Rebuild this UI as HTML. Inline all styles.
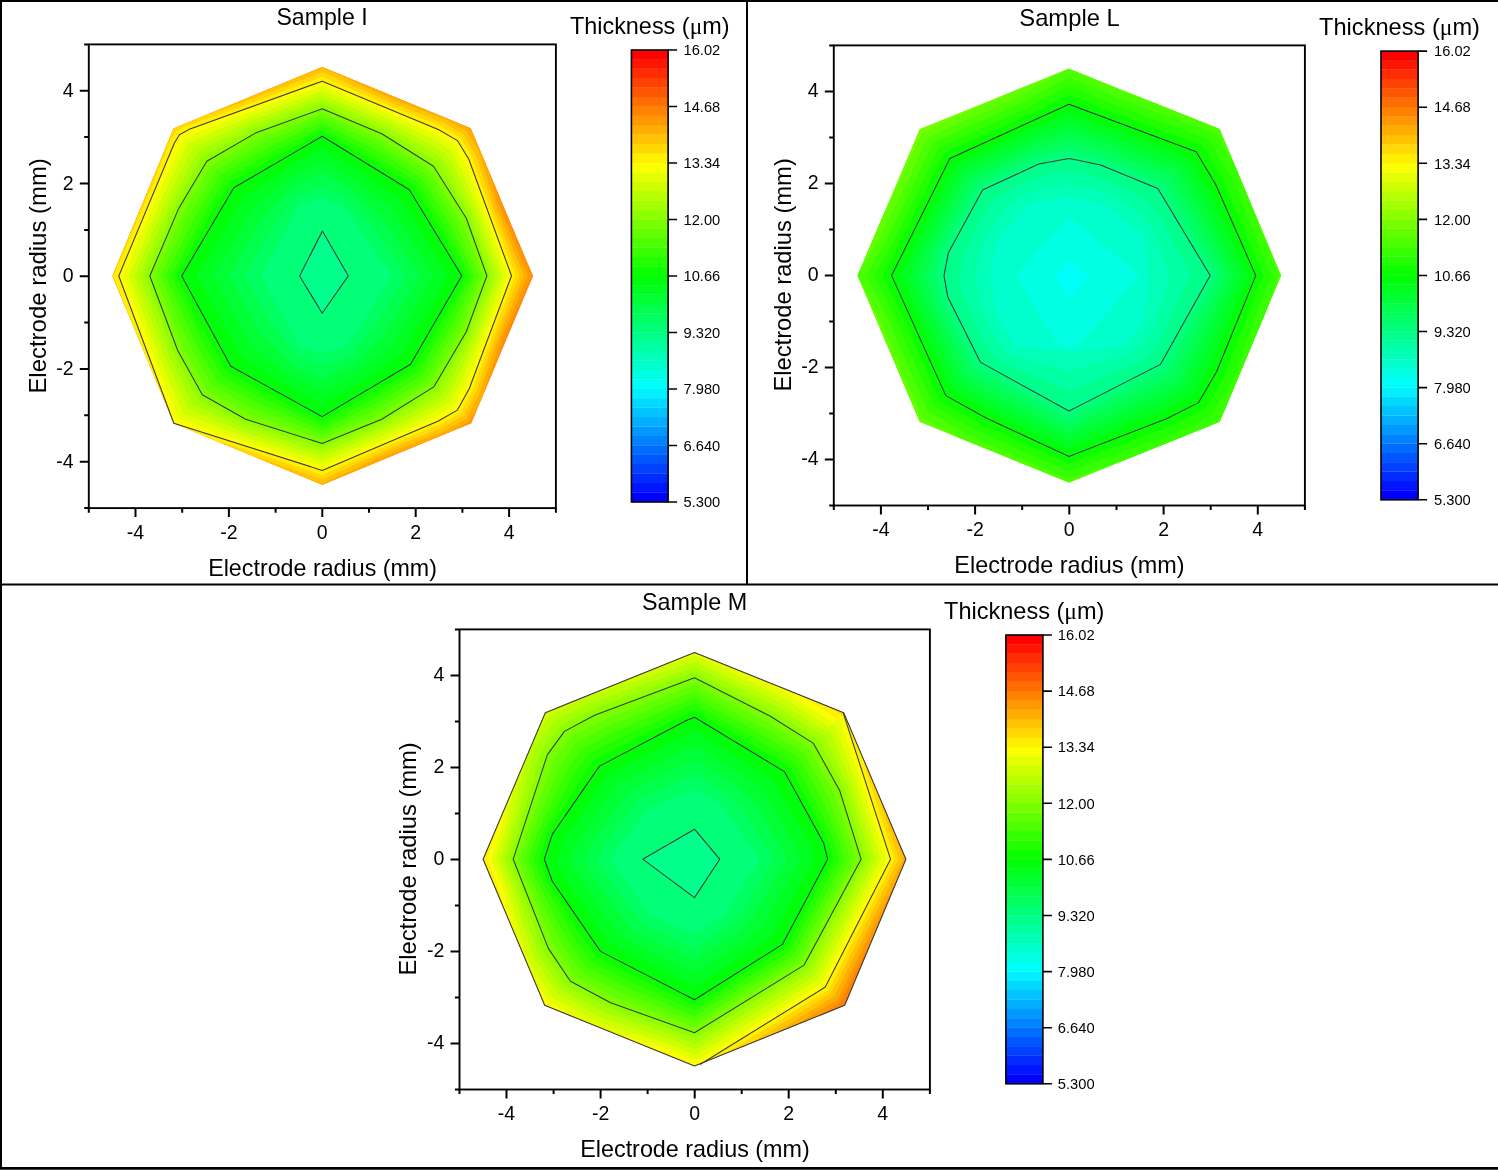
<!DOCTYPE html><html><head><meta charset="utf-8"><style>html,body{margin:0;padding:0;background:#fff;overflow:hidden}svg{display:block}text{font-family:"Liberation Sans",sans-serif;fill:#000}</style></head><body>
<svg width="1498" height="1170" viewBox="0 0 1498 1170">
<rect width="1498" height="1170" fill="#fff"/>
<g opacity="0.999">
<g>
<polygon points="322.2,67 470.7,128.2 533.1,276.1 471.2,423.2 322.2,484.8 173.8,423.2 112.5,276 173.6,128.6" fill="#ff8200"/>
<polygon points="112.5,276 173.6,128.6 322.2,67 470.7,128.2 500,197.7 501.2,201.9 501.8,204 510.7,225.5 521,249.8 531.7,275.2 531.9,275.7 532,275.7 532,275.8 531.9,276 531.9,276.1 520.7,302.1 510.3,326.4 502.1,345.7 500.8,349.9 497.5,360.7 471.2,423.2 322.2,484.8 173.8,423.2" fill="#ff9800"/>
<polygon points="112.5,276 173.6,128.6 322.2,67 468.2,127.2 469.9,128.1 470,128.3 470.1,128.8 470.3,129.2 470.5,129.7 473.2,134.1 488.7,171 491,178.6 498.3,203.1 498.9,205.1 507.5,226.4 517.4,250.3 527.6,275.2 527.9,275.7 527.9,275.8 527.9,275.8 527.8,276 527.8,276.1 517.1,301.6 507.1,325.5 499.2,344.5 497.9,348.7 490.1,372.9 483,395.2 480.5,401.2 469.4,421.4 469.2,421.8 468.9,421.8 468.4,422.1 453.3,430.6 426.4,441.7 419.5,444.3 395.9,453.2 395.7,453.3 384.2,458.8 377.3,462 322.2,484.8 173.8,423.2" fill="#ffae00"/>
<polygon points="112.5,276 173.6,128.6 300.1,76.2 322.2,67.4 322.2,67.4 322.2,67.4 322.3,67.4 322.8,67.7 348.2,79.1 372.2,89.9 381.6,94.2 395.1,100.2 395.7,100.5 418.6,109.2 443.2,118.4 446.8,119.8 466.7,131.2 466.8,131.5 467,131.9 467.2,132.3 467.4,132.7 478.8,151.3 479.9,155 487.9,180.4 495.4,204.3 496,206.3 504.3,227.2 513.8,250.8 523.6,275.2 523.8,275.7 523.8,275.8 523.8,275.8 523.7,276 523.7,276.1 513.4,301.2 503.9,324.6 496.3,343.4 494.9,347.5 487,371.1 478.8,396.1 478.7,396.1 466.4,418.5 466.2,418.9 466,418.9 465.5,419.2 445.2,430.6 441.9,431.9 417.7,441.3 394.6,450.2 394.5,450.3 383.1,455.6 371.8,460.8 348.1,471.8 322.3,483.8 322.2,483.8 322.2,483.8 322.2,483.8 321.7,483.7 307.1,478.5 173.8,423.2" fill="#ffc300"/>
<polygon points="112.5,276 173.6,128.6 209.6,113.7 225.5,108.4 241.3,103.1 249.4,100 263.5,94.6 272.7,91.1 296.7,81.8 322.2,72 322.2,72 322.2,72 322.3,72 322.8,72.2 347.7,83.2 371.2,93.6 380.5,97.6 393.8,103.4 394.3,103.7 416.7,112.5 440.6,121.8 444.1,123.1 463.6,134.4 463.7,134.6 463.9,134.9 464.1,135.3 464.3,135.8 475.5,154 476.6,157.6 484.8,182.2 492.5,205.5 493.1,207.4 501.1,228.1 510.1,251.3 519.5,275.2 519.7,275.7 519.7,275.8 519.7,275.8 519.6,276 519.6,276.1 509.8,300.7 500.6,323.8 493.3,342.3 492,346.3 484,369.3 475.6,393.6 475.6,393.7 463.5,415.6 463.3,415.9 463.1,416 462.6,416.3 442.7,427.5 439.5,428.8 415.9,438.2 393.4,447.2 393.3,447.3 382,452.3 370.9,457.3 347.6,467.9 322.3,479.3 322.2,479.4 322.2,479.4 322.2,479.3 321.8,479.2 296.7,470.7 272.4,462.4 262.9,459.2 249.8,454.7 173.8,423.2" fill="#ffd900"/>
<polygon points="113.6,276 124.8,250 135.2,225.9 145.1,202.6 148.7,194.3 154.8,179.3 164.7,155.1 170.9,139.8 176.1,131.3 176.3,131.3 176.5,131.1 176.8,131 177.1,130.8 185.6,126.2 202.7,120.2 227.4,111.6 242.8,106.2 250.8,103.3 264.7,98.1 273.7,94.7 297.3,85.9 322.2,76.6 322.2,76.6 322.2,76.6 322.3,76.6 322.7,76.8 347.1,87.3 370.2,97.2 379.3,101.1 392.4,106.7 393,106.9 414.8,115.7 438.1,125.1 441.5,126.5 460.5,137.5 460.6,137.7 460.8,138 461,138.4 461.2,138.8 472.1,156.7 473.3,160.1 481.6,184 489.5,206.7 490.2,208.6 497.9,229 506.5,251.8 515.4,275.3 515.6,275.7 515.6,275.8 515.6,275.8 515.5,276 515.5,276.1 506.2,300.2 497.4,322.9 490.4,341.1 489,345 480.9,367.6 472.4,391.2 472.4,391.2 460.5,412.7 460.3,413 460.2,413.1 459.7,413.4 440.3,424.4 437.2,425.7 414.2,435.1 392.1,444.2 392,444.3 380.9,449.1 370,453.9 347,464 322.3,474.8 322.2,474.9 322.2,474.9 322.2,474.9 321.8,474.7 297.2,466.6 273.3,458.8 264,455.7 249.8,451 231.8,445.2 225.7,443.3 213.6,439.7 173.8,423.2 128.2,313.6 123.7,302.1" fill="#ffef00"/>
<polygon points="118.8,276 129.4,250.6 139.3,227 148.8,204.1 152.3,196 158.4,181.4 168.2,157.8 174.4,143 179.5,134.7 179.7,134.6 179.9,134.5 180.2,134.3 180.5,134.2 188.7,129.6 205.3,123.6 229.3,114.9 244.3,109.4 252.1,106.6 265.8,101.6 274.7,98.4 297.8,90 322.2,81.2 322.2,81.2 322.2,81.2 322.3,81.2 322.7,81.4 346.6,91.4 369.2,100.8 378.2,104.5 391.1,109.9 391.6,110.1 412.9,119 435.5,128.4 438.8,129.8 457.4,140.6 457.5,140.8 457.7,141.1 457.9,141.5 458.2,141.8 468.8,159.3 470,162.6 478.5,185.8 486.6,207.9 487.3,209.8 494.6,229.8 502.9,252.2 511.3,275.3 511.5,275.7 511.5,275.8 511.5,275.8 511.4,276 511.4,276.1 502.5,299.7 494.2,322.1 487.5,340 486,343.8 477.8,365.8 469.2,388.7 469.2,388.8 457.6,409.7 457.4,410.1 457.2,410.2 456.8,410.5 437.8,421.3 434.8,422.6 412.4,432.1 390.9,441.2 390.8,441.3 379.8,445.9 369.1,450.5 346.5,460.1 322.3,470.4 322.2,470.4 322.2,470.4 322.2,470.4 321.8,470.3 297.7,462.6 274.3,455.2 265.1,452.2 251.1,447.8 233.4,442.1 227.5,440.3 202.4,432.3 174.8,423.5 173.8,423.2 173.7,423 173.6,422.6 164.1,397.4 154.9,372.6 151.7,363.9 146.1,349 137.3,325.6 128.3,301.5" fill="#faff00"/>
<polygon points="124,276 134.3,251.3 144,228.2 153.3,206 156.7,198 162.9,184 172.9,161.3 179.1,147.2 184,139.2 184.2,139.1 184.4,138.9 184.6,138.8 184.9,138.6 192.9,134.2 208.7,128 231.7,119.1 246.2,113.4 253.8,110.6 267.2,105.8 275.8,102.6 298.4,94.4 322.2,85.8 322.2,85.8 322.2,85.8 322.3,85.8 322.7,86 346,95.7 368.1,105 376.9,108.6 389.5,113.8 390,114.1 410.5,123.2 432.2,132.8 435.3,134.2 453.2,144.8 453.4,144.9 453.6,145.2 453.8,145.6 454.1,145.9 464.4,162.8 465.7,166 474.5,188.1 483.1,209.4 483.8,211.2 491,230.8 499,252.7 507.2,275.3 507.4,275.7 507.4,275.8 507.4,275.8 507.3,276 507.3,276.1 498.7,299.2 490.5,321.1 483.9,338.6 482.4,342.3 473.9,363.5 465,385.5 465,385.6 453.7,405.9 453.5,406.2 453.3,406.3 452.9,406.6 434.5,417.2 431.6,418.5 410.2,428.2 389.4,437.6 389.2,437.6 378.5,442.1 368,446.6 346,455.9 322.3,465.9 322.2,465.9 322.2,465.9 322.2,465.9 321.8,465.8 298.3,458.3 275.4,451 266.4,448.2 252.8,443.9 235.4,438.3 229.7,436.3 205.7,427.9 179.5,418.8 178.6,418.5 178.5,418.3 178.3,417.9 168.8,393.8 159.3,370.1 156,361.7 150.6,347.1 142,324.3 133.3,300.9" fill="#e4ff00"/>
<polygon points="129.1,276 139.3,251.9 148.7,229.5 157.8,207.9 161.1,200.1 167.4,186.6 177.5,164.9 183.8,151.4 188.5,143.6 188.7,143.5 188.9,143.4 189.1,143.3 189.4,143.1 197.1,138.8 212.2,132.5 234.1,123.2 248,117.3 255.5,114.6 268.5,109.9 277,106.8 299,98.8 322.2,90.4 322.2,90.4 322.2,90.4 322.3,90.4 322.7,90.6 345.5,100.1 367,109.1 375.6,112.7 387.8,117.8 388.4,118 408.1,127.4 428.8,137.2 431.8,138.6 449.1,148.9 449.2,149.1 449.5,149.4 449.7,149.6 449.9,150 460,166.3 461.3,169.3 470.5,190.4 479.5,210.9 480.3,212.6 487.3,231.8 495.1,253.3 503.1,275.3 503.3,275.7 503.3,275.8 503.3,275.8 503.2,276 503.2,276.1 494.8,298.7 486.8,320.1 480.4,337.3 478.9,340.8 470,361.3 460.8,382.3 460.8,382.4 449.7,402 449.6,402.3 449.4,402.4 449,402.7 431.3,413.1 428.5,414.4 407.9,424.3 387.9,433.9 387.7,434 377.3,438.4 367,442.7 345.4,451.7 322.3,461.4 322.2,461.4 322.2,461.4 322.2,461.4 321.8,461.3 298.9,454 276.5,446.9 267.8,444.2 254.4,439.9 237.4,434.5 232,432.4 209.1,423.6 184.2,414.1 183.4,413.7 183.2,413.5 183.1,413.2 173.4,390.3 163.8,367.5 160.3,359.4 155,345.3 146.7,323 138.2,300.2" fill="#ceff00"/>
<polygon points="134.3,276 144.2,252.6 153.4,230.7 162.3,209.7 165.5,202.2 171.9,189.2 182.2,168.5 188.5,155.7 193.1,148.1 193.2,148 193.4,147.8 193.6,147.7 193.9,147.6 201.3,143.4 215.6,136.9 236.5,127.4 249.9,121.3 257.1,118.6 269.8,114 278.1,111 299.6,103.2 322.2,95 322.2,95 322.2,95 322.3,95 322.7,95.2 344.9,104.5 365.9,113.2 374.2,116.7 386.2,121.7 386.7,121.9 405.7,131.6 425.4,141.6 428.3,143 444.9,153.1 445.1,153.2 445.3,153.5 445.6,153.7 445.8,154 455.6,169.8 457,172.7 466.5,192.7 476,212.3 476.8,214 483.6,232.8 491.2,253.8 499,275.3 499.2,275.7 499.2,275.8 499.2,275.8 499.1,276 499.1,276.1 490.9,298.2 483.1,319.1 476.9,335.9 475.3,339.4 466,359 456.7,379.1 456.6,379.1 445.8,398.1 445.6,398.4 445.5,398.5 445.1,398.8 428,409 425.4,410.3 405.7,420.4 386.4,430.3 386.2,430.3 376,434.6 365.9,438.8 344.9,447.5 322.3,456.9 322.2,456.9 322.2,456.9 322.2,456.9 321.8,456.8 299.4,449.7 277.6,442.8 269.1,440.1 256,436 239.5,430.7 234.3,428.5 212.4,419.2 189,409.3 188.1,409 188,408.8 187.9,408.5 178,386.7 168.2,365 164.7,357.2 159.5,343.4 151.4,321.8 143.1,299.6" fill="#b8ff00"/>
<polygon points="139.5,276 149.1,253.2 158.1,232 166.8,211.6 169.9,204.3 176.4,191.8 186.8,172 193.2,159.9 197.6,152.6 197.7,152.5 197.8,152.3 198,152.2 198.3,152 205.5,148 219,141.3 238.9,131.5 251.7,125.2 258.8,122.6 271.2,118.1 279.2,115.2 300.1,107.6 322.2,99.6 322.2,99.6 322.2,99.6 322.3,99.6 322.7,99.8 344.3,108.8 364.8,117.4 372.9,120.8 384.6,125.6 385.1,125.8 403.3,135.8 422.1,146 424.7,147.4 440.8,157.2 440.9,157.4 441.2,157.6 441.4,157.8 441.7,158.1 451.2,173.3 452.6,176 462.6,195 472.5,213.8 473.3,215.4 479.9,233.8 487.3,254.3 494.9,275.3 495.1,275.8 495.1,275.8 495.1,275.8 495,276 495,276.1 487,297.7 479.4,318.1 473.4,334.5 471.7,337.9 462.1,356.7 452.5,375.9 452.4,375.9 441.9,394.2 441.7,394.5 441.6,394.7 441.2,394.9 424.7,404.9 422.2,406.2 403.4,416.5 384.8,426.6 384.7,426.7 374.7,430.8 364.9,434.9 344.3,443.3 322.3,452.4 322.2,452.5 322.2,452.5 322.2,452.5 321.8,452.3 300,445.4 278.7,438.7 270.4,436.1 257.7,432 241.5,426.9 236.5,424.6 215.8,414.9 193.7,404.6 192.9,404.3 192.8,404.1 192.6,403.8 182.7,383.1 172.6,362.4 169,355 164,341.6 156.1,320.5 148.1,298.9" fill="#a3ff00"/>
<polygon points="144.6,276 154.1,253.9 162.8,233.3 171.3,213.4 174.3,206.3 181,194.4 191.5,175.6 197.9,164.1 202.1,157.1 202.2,156.9 202.3,156.7 202.5,156.6 202.8,156.5 209.6,152.5 222.4,145.8 241.3,135.7 253.6,129.2 260.4,126.7 272.5,122.3 280.3,119.4 300.7,112 322.2,104.2 322.2,104.2 322.2,104.2 322.3,104.2 322.7,104.4 343.7,113.2 363.7,121.5 371.6,124.8 383,129.6 383.4,129.8 400.8,140 418.7,150.4 421.2,151.9 436.6,161.4 436.8,161.5 437,161.7 437.3,161.9 437.6,162.1 446.8,176.8 448.3,179.4 458.6,197.3 468.9,215.3 469.8,216.8 476.3,234.7 483.4,254.8 490.8,275.4 491,275.8 491,275.8 491,275.8 490.9,276 490.9,276.1 483.1,297.2 475.8,317.1 469.8,333.2 468.1,336.4 458.2,354.5 448.3,372.7 448.3,372.7 438,390.4 437.8,390.6 437.7,390.8 437.3,391 421.5,400.7 419.1,402.1 401.1,412.6 383.3,423 383.2,423 373.4,427 363.8,430.9 343.8,439.1 322.3,447.9 322.2,448 322.2,448 322.2,448 321.8,447.9 300.6,441.1 279.8,434.6 271.7,432 259.3,428.1 243.6,423.1 238.8,420.6 219.1,410.5 198.4,399.9 197.7,399.5 197.5,399.4 197.4,399.1 187.3,379.6 177.1,359.9 173.4,352.7 168.5,339.7 160.8,319.3 153,298.3" fill="#8dff00"/>
<polygon points="149.8,276 159,254.5 167.5,234.5 175.8,215.3 178.7,208.4 185.5,197 196.1,179.2 202.6,168.3 206.6,161.5 206.7,161.4 206.8,161.2 207,161.1 207.2,160.9 213.8,157.1 225.8,150.2 243.7,139.9 255.4,133.1 262.1,130.7 273.8,126.4 281.5,123.6 301.3,116.4 322.2,108.8 322.2,108.8 322.2,108.8 322.3,108.8 322.7,109 343.2,117.6 362.6,125.7 370.3,128.9 381.3,133.5 381.8,133.7 398.4,144.2 415.3,154.8 417.7,156.3 432.5,165.6 432.6,165.7 432.9,165.8 433.2,166 433.5,166.2 442.4,180.3 443.9,182.7 454.6,199.6 465.4,216.7 466.3,218.2 472.6,235.7 479.6,255.3 486.7,275.4 486.9,275.8 486.9,275.8 486.9,275.8 486.8,276 486.8,276.1 479.2,296.7 472.1,316.1 466.3,331.8 464.5,334.9 454.3,352.2 444.1,369.5 444.1,369.5 434.1,386.5 433.9,386.8 433.8,386.9 433.4,387.1 418.2,396.6 415.9,398 398.9,408.7 381.8,419.3 381.7,419.3 372.1,423.2 362.8,427 343.2,435 322.3,443.5 322.2,443.5 322.2,443.5 322.2,443.5 321.9,443.4 301.1,436.8 280.9,430.5 273,428 260.9,424.1 245.6,419.3 241.1,416.7 222.4,406.1 203.1,395.2 202.5,394.8 202.3,394.7 202.2,394.4 191.9,376 181.5,357.3 177.7,350.5 173,337.9 165.5,318 157.9,297.6" fill="#77ff00"/>
<polygon points="155.1,276 164.5,255.2 173.1,236 181.3,217.6 184.3,211 190.8,200.1 201,182.9 207.2,172.5 211.1,166 211.2,165.8 211.3,165.7 211.5,165.5 211.7,165.4 218,161.7 229.5,155.1 246.7,145.1 258,138.6 264.4,136.1 275.6,131.7 282.9,128.9 301.9,121.4 322.2,113.4 322.2,113.4 322.2,113.4 322.3,113.4 322.7,113.6 342.5,122.4 361.2,130.7 368.6,134 379.2,138.7 379.6,138.9 395.7,148.9 412,159.1 414.3,160.6 428.5,169.5 428.7,169.6 428.9,169.8 429.2,170 429.5,170.2 438.1,183.8 439.5,186.1 449.7,202.4 460.1,218.9 461,220.3 467.5,237.1 474.9,255.9 482.6,275.4 482.7,275.8 482.7,275.8 482.7,275.8 482.6,276 482.6,276.1 474.7,296.1 467.2,314.8 461.3,329.9 459.5,332.8 449.7,349.5 439.9,366.2 439.9,366.3 430.2,382.7 430,382.9 430,383.1 429.6,383.3 414.9,392.5 412.7,393.8 396.2,404 379.7,414.2 379.6,414.3 370.4,418.2 361.4,422.1 342.6,430.2 322.3,439 322.2,439 322.2,439 322.2,439 321.9,438.9 301.8,431.9 282.3,425.1 274.8,422.5 263.3,418.5 248.7,413.5 244.3,411 226.4,400.9 207.9,390.4 207.2,390.1 207.1,390 206.9,389.7 197.1,372.1 187.1,354 183.5,347.5 178.7,335.5 171.2,316.5 163.4,296.9" fill="#62ff00"/>
<polygon points="160.4,276 169.9,255.9 178.7,237.5 186.9,219.9 189.9,213.7 196.1,203.2 205.9,186.7 211.9,176.7 215.6,170.4 215.7,170.3 215.8,170.1 215.9,170 216.2,169.9 222.2,166.3 233.3,160 249.8,150.4 260.6,144.1 266.6,141.6 277.3,137.1 284.3,134.1 302.6,126.3 322.2,118 322.2,118 322.2,118 322.3,118 322.7,118.2 341.9,127.3 359.9,135.8 366.9,139.1 377,143.9 377.5,144.1 392.9,153.7 408.6,163.5 410.8,164.9 424.6,173.5 424.7,173.6 425,173.7 425.2,173.9 425.5,174.1 433.7,187.3 435.1,189.5 444.9,205.2 454.8,221.1 455.7,222.5 462.5,238.4 470.2,256.5 478.4,275.4 478.5,275.8 478.5,275.8 478.5,275.8 478.4,276 478.4,276.1 470.1,295.5 462.4,313.5 456.3,327.9 454.6,330.8 445.1,346.9 435.7,363 435.6,363 426.4,378.9 426.2,379.1 426.1,379.3 425.8,379.5 411.6,388.3 409.4,389.6 393.5,399.4 377.6,409.1 377.5,409.2 368.7,413.2 360.1,417.1 342,425.4 322.3,434.5 322.2,434.5 322.2,434.5 322.2,434.5 321.9,434.4 302.4,426.9 283.8,419.8 276.5,417.1 265.6,412.9 251.8,407.7 247.6,405.4 230.4,395.7 212.6,385.7 212,385.3 211.9,385.2 211.7,385 202.3,368.1 192.8,350.8 189.3,344.5 184.5,333.1 176.9,315 169,296.2" fill="#4cff00"/>
<polygon points="165.8,276 175.4,256.7 184.2,239 192.5,222.3 195.5,216.3 201.5,206.2 210.8,190.5 216.5,180.9 220.1,174.9 220.2,174.7 220.3,174.6 220.4,174.4 220.6,174.3 226.4,170.9 237,164.8 252.8,155.6 263.1,149.6 268.9,147 279,142.4 285.7,139.4 303.3,131.3 322.2,122.6 322.2,122.6 322.2,122.6 322.3,122.6 322.6,122.8 341.2,132.2 358.5,140.9 365.3,144.3 374.9,149.1 375.3,149.3 390.1,158.5 405.2,167.9 407.4,169.2 420.6,177.5 420.8,177.5 421,177.7 421.2,177.9 421.5,178.1 429.3,190.7 430.7,192.9 440.1,208 449.6,223.3 450.4,224.6 457.4,239.8 465.6,257.1 474.2,275.4 474.3,275.8 474.3,275.8 474.3,275.8 474.3,276 474.2,276.1 465.5,294.9 457.5,312.2 451.2,326 449.6,328.7 440.5,344.3 431.5,359.8 431.4,359.8 422.5,375.1 422.4,375.3 422.3,375.4 422,375.7 408.2,384.1 406.2,385.3 390.8,394.7 375.5,404.1 375.4,404.1 367,408.2 358.8,412.2 341.3,420.7 322.3,430 322.2,430 322.2,430 322.2,430 321.9,429.9 303.1,422 285.2,414.5 278.3,411.6 267.9,407.3 254.9,402 250.9,399.7 234.4,390.5 217.4,380.9 216.8,380.6 216.7,380.5 216.5,380.3 207.5,364.1 198.4,347.5 195.1,341.5 190.3,330.7 182.6,313.4 174.5,295.5" fill="#36ff00"/>
<polygon points="171.1,276 180.9,257.4 189.8,240.5 198.1,224.6 201.1,218.9 206.8,209.3 215.7,194.2 221.2,185.1 224.6,179.3 224.6,179.2 224.7,179 224.9,178.9 225.1,178.8 230.6,175.5 240.7,169.7 255.8,160.9 265.7,155.2 271.1,152.5 280.8,147.8 287.1,144.6 303.9,136.3 322.2,127.1 322.2,127.1 322.2,127.1 322.3,127.2 322.6,127.4 340.6,137 357.2,145.9 363.6,149.4 372.7,154.3 373.1,154.5 387.4,163.3 401.9,172.3 403.9,173.6 416.7,181.4 416.8,181.5 417,181.7 417.3,181.8 417.5,182 425,194.2 426.2,196.2 435.2,210.8 444.3,225.5 445.1,226.7 452.4,241.1 460.9,257.8 470,275.4 470.2,275.8 470.2,275.8 470.1,275.8 470.1,276 470,276.1 461,294.3 452.7,310.9 446.2,324 444.7,326.7 435.9,341.6 427.3,356.5 427.2,356.6 418.7,371.3 418.5,371.5 418.4,371.6 418.2,371.9 404.9,379.9 403,381.1 388.2,390.1 373.4,399 373.3,399 365.3,403.1 357.5,407.2 340.7,415.9 322.3,425.5 322.2,425.6 322.2,425.6 322.2,425.6 321.9,425.4 303.7,417 286.6,409.2 280.1,406.2 270.2,401.7 258,396.2 254.2,394 238.5,385.3 222.1,376.2 221.6,375.8 221.4,375.8 221.3,375.6 212.7,360.1 204,344.3 200.9,338.5 196,328.3 188.2,311.9 180,294.7" fill="#21ff00"/>
<polygon points="176.4,276 186.4,258.1 195.3,242 203.7,226.9 206.7,221.6 212.1,212.4 220.6,198 225.8,189.2 229.1,183.8 229.1,183.6 229.2,183.5 229.3,183.3 229.5,183.2 234.8,180.1 244.5,174.6 258.9,166.2 268.3,160.7 273.4,158 282.5,153.1 288.5,149.9 304.6,141.2 322.2,131.7 322.2,131.7 322.2,131.7 322.3,131.8 322.6,132 340,141.9 355.8,151 361.9,154.5 370.6,159.5 370.9,159.7 384.6,168.1 398.5,176.7 400.5,177.9 412.7,185.4 412.8,185.5 413.1,185.6 413.3,185.8 413.5,186 420.6,197.7 421.8,199.6 430.4,213.6 439,227.6 439.8,228.8 447.4,242.5 456.2,258.4 465.8,275.4 466,275.8 466,275.8 466,275.8 465.9,276 465.8,276.1 456.4,293.7 447.8,309.6 441.2,322.1 439.7,324.6 431.4,339 423,353.3 423,353.3 414.8,367.5 414.7,367.7 414.6,367.8 414.4,368.1 401.6,375.8 399.7,376.9 385.5,385.4 371.3,393.9 371.2,394 363.6,398.1 356.1,402.3 340.1,411.1 322.3,421 322.2,421.1 322.2,421.1 322.2,421.1 321.9,420.9 304.4,412.1 288,403.9 281.8,400.8 272.5,396.1 261.1,390.4 257.4,388.4 242.5,380.1 226.9,371.4 226.3,371.1 226.2,371 226,370.9 217.9,356.1 209.7,341 206.7,335.6 201.8,325.9 193.9,310.4 185.6,294" fill="#0bff00"/>
<polygon points="181.7,276 191.8,258.8 200.9,243.5 209.3,229.2 212.3,224.2 217.5,215.5 225.6,201.8 230.5,193.4 233.6,188.2 233.6,188.1 233.7,187.9 233.8,187.8 234,187.7 239,184.8 248.2,179.4 261.9,171.4 270.9,166.2 275.7,163.4 284.2,158.4 289.9,155.1 305.2,146.2 322.2,136.3 322.2,136.3 322.2,136.3 322.3,136.4 322.6,136.6 339.3,146.8 354.4,156.1 360.2,159.6 368.4,164.6 368.8,164.9 381.8,172.9 395.2,181 397.1,182.2 408.7,189.4 408.9,189.4 409.1,189.6 409.3,189.7 409.5,189.9 416.3,201.1 417.4,203 425.6,216.4 433.8,229.8 434.5,231 442.3,243.8 451.5,259 461.6,275.5 461.8,275.8 461.8,275.8 461.8,275.9 461.7,276 461.6,276.1 451.8,293.1 443,308.3 436.2,320.1 434.7,322.6 426.8,336.3 418.8,350.1 418.8,350.1 411,363.7 410.8,363.9 410.8,364 410.6,364.3 398.3,371.6 396.5,372.7 382.8,380.8 369.1,388.8 369.1,388.9 361.9,393.1 354.8,397.3 339.5,406.4 322.3,416.5 322.2,416.6 322.2,416.6 322.2,416.6 321.9,416.4 305,407.1 289.5,398.5 283.6,395.3 274.9,390.5 264.2,384.6 260.7,382.7 246.5,374.8 231.6,366.7 231.1,366.4 231,366.3 230.8,366.2 223.1,352.1 215.3,337.8 212.5,332.6 207.6,323.5 199.6,308.9 191.1,293.3" fill="#00ff0b"/>
<polygon points="197.5,276 206.5,260.7 214.4,247.1 221.9,234.4 224.5,230 229.1,222.2 236.2,209.9 240.6,202.5 243.3,197.8 243.4,197.7 243.4,197.6 243.5,197.5 243.7,197.4 248,194.5 255.8,189.3 267.7,181.3 275.5,176 279.7,173.1 287.2,167.7 292.5,164.9 306.7,157.2 322.2,148.7 322.2,148.7 322.2,148.7 322.3,148.7 322.6,148.9 337.8,157.9 351.8,166.1 357.1,169.2 364.4,174.3 364.7,174.5 376.3,182.5 387.9,190.5 389.6,191.6 399.7,198.4 399.8,198.5 400,198.6 400.2,198.7 400.3,199 406.5,208.9 407.5,210.6 414.9,222.5 422.4,234.6 423,235.6 430.1,247.1 438.5,260.7 447.7,275.5 447.9,275.8 447.9,275.8 447.9,275.9 447.8,276 447.8,276.1 438.8,291.3 430.8,305.1 424.6,315.6 423.3,317.8 416.1,330.1 408.9,342.4 408.9,342.5 401.8,354.6 401.7,354.8 401.6,354.9 401.4,355.1 390.8,362.2 389.2,363.2 377.3,371.2 365.2,379.4 365.2,379.5 358.8,383.9 352.2,387.5 338,395.2 322.3,403.8 322.2,403.8 322.2,403.9 322.2,403.9 322,403.7 306.5,395.8 292.2,388.4 286.7,385.6 279,380.5 269.7,374.3 266.7,372.3 254.4,364.5 241.8,356.5 241.4,356.2 241.3,356.2 241.1,356.1 234.3,343.5 227.3,330.8 224.8,326.2 220.5,318.2 213.4,305.2 205.9,291.3" fill="#00ff21"/>
<polygon points="213.3,276 221.1,262.7 228,250.7 234.4,239.6 236.7,235.7 240.7,228.9 246.9,218.1 250.7,211.6 253,207.5 253.1,207.4 253.2,207.3 253.2,207.2 253.4,207.1 256.9,204.3 263.4,199.3 273.4,191.3 280.1,185.8 283.7,182.7 290.2,177.1 295.1,174.6 308.1,168.2 322.2,161.1 322.2,161.1 322.2,161.1 322.3,161.1 322.6,161.2 336.4,169 349.1,176.1 354,178.8 360.4,184 360.7,184.2 370.7,192.1 380.7,199.9 382.1,201 390.7,207.5 390.8,207.5 390.9,207.7 391.1,207.8 391.2,208 396.7,216.7 397.6,218.2 404.2,228.7 410.9,239.3 411.5,240.2 417.9,250.4 425.5,262.4 433.9,275.6 434,275.8 434,275.9 434,275.9 434,276 433.9,276.1 425.8,289.6 418.6,301.8 413,311.2 411.9,313.1 405.4,324 398.9,334.8 398.9,334.8 392.6,345.5 392.5,345.7 392.4,345.7 392.3,346 383.3,352.8 382,353.8 371.8,361.7 361.3,370 361.3,370.1 355.7,374.6 349.5,377.6 336.5,384 322.3,391.1 322.2,391.1 322.2,391.1 322.2,391.1 322,391 308,384.4 294.9,378.3 289.9,376 283.2,370.4 275.2,364 272.7,362 262.4,354.1 252,346.3 251.6,346.1 251.5,346 251.4,345.9 245.4,335 239.4,323.9 237.2,319.9 233.4,312.8 227.2,301.5 220.6,289.4" fill="#00ff36"/>
<polygon points="229.1,276 235.7,264.6 241.5,254.4 247,244.8 248.9,241.4 252.3,235.6 257.5,226.3 260.8,220.7 262.8,217.1 262.8,217 262.9,216.9 262.9,216.8 263,216.7 265.8,214.1 271,209.2 279.1,201.2 284.6,195.5 287.7,192.4 293.3,186.4 297.8,184.4 309.5,179.1 322.2,173.4 322.2,173.4 322.3,173.4 322.3,173.5 322.5,173.6 334.9,180.1 346.4,186.1 350.9,188.4 356.4,193.7 356.6,193.9 365.2,201.8 373.5,209.3 374.6,210.3 381.6,216.5 381.7,216.6 381.8,216.7 381.9,216.8 382.1,217 386.9,224.5 387.7,225.8 393.6,234.8 399.5,244 400,244.8 405.7,253.6 412.5,264.1 420,275.6 420.1,275.9 420.1,275.9 420.1,275.9 420.1,276 420.1,276 412.9,287.9 406.4,298.5 401.4,306.7 400.4,308.4 394.7,317.8 389,327.2 389,327.2 383.4,336.4 383.3,336.5 383.2,336.6 383.1,336.8 375.8,343.3 374.7,344.3 366.3,352.2 357.4,360.6 357.4,360.7 352.6,365.4 346.9,367.8 335,372.8 322.3,378.4 322.3,378.4 322.2,378.4 322.2,378.4 322,378.3 309.5,373.1 297.6,368.2 293,366.3 287.4,360.4 280.7,353.7 278.6,351.6 270.3,343.7 262.1,336.2 261.8,335.9 261.8,335.9 261.7,335.8 256.6,326.4 251.4,316.9 249.5,313.5 246.3,307.5 241,297.8 235.4,287.4" fill="#00ff4c"/>
<polygon points="245,276 250.3,266.5 255,258 259.5,250 261.1,247.2 263.8,242.3 268.2,234.5 270.9,229.7 272.5,226.7 272.6,226.7 272.6,226.6 272.6,226.5 272.7,226.4 274.8,223.9 278.6,219.1 284.8,211.1 289.2,205.3 291.7,202 296.3,195.7 300.4,194.1 311,190.1 322.2,185.8 322.2,185.8 322.3,185.8 322.3,185.8 322.5,185.9 333.5,191.2 343.7,196.1 347.7,198 352.4,203.3 352.6,203.6 359.6,211.4 366.2,218.7 367.1,219.7 372.6,225.6 372.6,225.7 372.7,225.8 372.8,225.9 372.9,226 377.1,232.3 377.8,233.4 382.9,241 388.1,248.7 388.5,249.4 393.6,256.9 399.5,265.8 406.1,275.7 406.2,275.9 406.2,275.9 406.2,275.9 406.3,276 406.2,276 399.9,286.2 394.2,295.3 389.9,302.2 389,303.6 384,311.6 379,319.5 379,319.6 374.2,327.3 374.1,327.4 374.1,327.5 374,327.7 368.4,333.9 367.5,334.9 360.8,342.6 353.5,351.2 353.5,351.3 349.4,356.1 344.3,357.9 333.6,361.7 322.3,365.6 322.3,365.6 322.2,365.6 322.2,365.6 322.1,365.6 311,361.7 300.3,358 296.2,356.6 291.5,350.3 286.2,343.4 284.6,341.3 278.3,333.3 272.3,326 272.1,325.8 272,325.7 271.9,325.6 267.7,317.9 263.4,310 261.9,307.1 259.2,302.1 254.8,294.1 250.1,285.5" fill="#00ff62"/>
<polygon points="260.8,276 264.9,268.4 268.6,261.6 272.1,255.2 273.3,252.9 275.4,248.9 278.9,242.7 280.9,238.8 282.3,236.4 282.3,236.3 282.3,236.3 282.4,236.2 282.4,236.1 283.7,233.7 286.3,229 290.6,221.1 293.8,215.1 295.7,211.7 299.3,205 303,203.9 312.4,201.1 322.2,198.2 322.3,198.2 322.3,198.2 322.3,198.2 322.5,198.3 332,202.3 341,206.1 344.6,207.6 348.4,213 348.5,213.2 354,221.1 359,228.2 359.7,229.1 363.5,234.7 363.6,234.7 363.6,234.8 363.7,234.9 363.8,235 367.3,240.1 367.9,241 372.3,247.2 376.7,253.5 377.1,254 381.4,260.2 386.5,267.5 392.2,275.7 392.4,275.9 392.4,275.9 392.4,275.9 392.4,276 392.4,276 386.9,284.5 382,292 378.3,297.7 377.5,298.9 373.3,305.4 369.1,311.9 369.1,311.9 365,318.2 364.9,318.3 364.9,318.4 364.8,318.5 360.9,324.5 360.3,325.5 355.3,333.1 349.6,341.8 349.6,341.9 346.3,346.9 341.6,348.1 332.1,350.5 322.3,352.9 322.3,352.9 322.3,352.9 322.2,352.9 322.1,352.9 312.5,350.4 303,347.9 299.3,346.9 295.7,340.3 291.8,333.1 290.6,330.9 286.3,322.9 282.4,315.9 282.3,315.6 282.3,315.6 282.2,315.5 278.9,309.3 275.5,303 274.2,300.8 272.1,296.8 268.6,290.4 264.9,283.6" fill="#00ff77"/>
<polygon points="299.6,276 301,273.2 302.3,270.6 303.5,268.2 304,267.4 304.7,265.9 306,263.5 306.7,262 307.2,261.1 307.2,261 307.2,261 307.2,261 307.2,260.9 307.7,260 308.6,258.2 310.2,255.1 311.4,252.7 312.1,251.4 313.5,248.7 314.5,246.7 317.6,240.5 322.3,231.4 322.3,231.3 322.3,231.3 322.3,231.3 322.4,231.1 327.1,239.3 330.6,245.2 331.7,247.2 333.2,249.7 333.2,249.8 335.3,253.4 337.2,256.6 337.4,257 338.8,259.5 338.8,259.5 338.8,259.5 338.9,259.6 338.9,259.6 340.1,261.8 340.4,262.1 341.8,264.7 343.3,267.3 343.4,267.5 344.9,270 346.5,272.8 348.3,275.9 348.3,276 348.3,276 348.2,276 348.2,276 348.2,276 346,279.1 344.1,281.9 342.7,283.9 342.4,284.3 340.8,286.7 339.2,288.9 339.2,289 337.6,291.2 337.6,291.2 337.6,291.2 337.6,291.3 336.1,293.3 335.9,293.7 334,296.3 332,299.3 331.9,299.3 330.8,301 329.5,302.8 326.4,307.2 322.3,313.1 322.3,313.1 322.3,313.1 322.3,313.1 322.2,313.2 318.3,306.7 315.4,301.9 314.4,300.4 313.1,298.2 311.7,295.9 311.2,295.2 309.6,292.5 308.2,290.1 308.1,290 308.1,290 308.1,290 306.8,287.9 305.5,285.7 305,284.9 304.2,283.5 302.8,281.2 301.3,278.8" fill="#00ff8d"/>
</g>
<polygon points="322.4,231.1 348.3,275.9 322.2,313.2 299.6,276" fill="none" stroke="#3a3a3a" stroke-width="1.05" stroke-linejoin="round"/>
<polygon points="322.2,136.3 409.3,189.7 461.8,275.8 410.6,364.3 322.2,416.6 230.8,366.2 181.7,276 233.8,187.8" fill="none" stroke="#3a3a3a" stroke-width="1.05" stroke-linejoin="round"/>
<polygon points="322.2,108.8 381.8,133.7 433.5,166.2 466.3,218.2 486.9,275.8 466.3,331.8 433.8,386.9 381.8,419.3 322.2,443.5 245.6,419.3 202.3,394.7 177.7,350.5 149.8,276 178.7,208.4 206.8,161.2 255.4,133.1" fill="none" stroke="#3a3a3a" stroke-width="1.05" stroke-linejoin="round"/>
<polygon points="322.2,81.2 438.8,129.8 457.4,140.6 468.8,159.3 511.5,275.8 469.2,388.8 457.4,410.1 437.8,421.3 322.2,470.4 173.8,423.2 118.8,276 174.4,143 179.5,134.7 188.7,129.6" fill="none" stroke="#3a3a3a" stroke-width="1.05" stroke-linejoin="round"/>
<rect x="88.8" y="44.4" width="467.1" height="463.7" fill="none" stroke="#000" stroke-width="1.9"/>
<path d="M88.8 508.1v4.6M88.8 508.1h-4.6M135.5 508.1v9M88.8 461.7h-9M182.2 508.1v4.6M88.8 415.3h-4.6M228.9 508.1v9M88.8 369h-9M275.6 508.1v4.6M88.8 322.6h-4.6M322.3 508.1v9M88.8 276.2h-9M369 508.1v4.6M88.8 229.9h-4.6M415.7 508.1v9M88.8 183.5h-9M462.4 508.1v4.6M88.8 137.1h-4.6M509.1 508.1v9M88.8 90.8h-9M555.9 508.1v4.6M88.8 44.4h-4.6" stroke="#000" stroke-width="2" fill="none"/>
<text x="135.5" y="538.9" font-size="19.5" text-anchor="middle">-4</text>
<text x="73.5" y="467.9" font-size="19.5" text-anchor="end">-4</text>
<text x="228.9" y="538.9" font-size="19.5" text-anchor="middle">-2</text>
<text x="73.5" y="375.2" font-size="19.5" text-anchor="end">-2</text>
<text x="322.3" y="538.9" font-size="19.5" text-anchor="middle">0</text>
<text x="73.5" y="282.4" font-size="19.5" text-anchor="end">0</text>
<text x="415.7" y="538.9" font-size="19.5" text-anchor="middle">2</text>
<text x="73.5" y="189.7" font-size="19.5" text-anchor="end">2</text>
<text x="509.1" y="538.9" font-size="19.5" text-anchor="middle">4</text>
<text x="73.5" y="97" font-size="19.5" text-anchor="end">4</text>
<rect x="631.4" y="492.3" width="36.7" height="9.7" fill="#0000ff"/>
<rect x="631.4" y="482.9" width="36.7" height="9.7" fill="#0016ff"/>
<rect x="631.4" y="473.4" width="36.7" height="9.7" fill="#002bff"/>
<rect x="631.4" y="464" width="36.7" height="9.7" fill="#0041ff"/>
<rect x="631.4" y="454.6" width="36.7" height="9.7" fill="#0057ff"/>
<rect x="631.4" y="445.2" width="36.7" height="9.7" fill="#006dff"/>
<rect x="631.4" y="435.8" width="36.7" height="9.7" fill="#0082ff"/>
<rect x="631.4" y="426.4" width="36.7" height="9.7" fill="#0098ff"/>
<rect x="631.4" y="416.9" width="36.7" height="9.7" fill="#00aeff"/>
<rect x="631.4" y="407.5" width="36.7" height="9.7" fill="#00c3ff"/>
<rect x="631.4" y="398.1" width="36.7" height="9.7" fill="#00d9ff"/>
<rect x="631.4" y="388.7" width="36.7" height="9.7" fill="#00efff"/>
<rect x="631.4" y="379.3" width="36.7" height="9.7" fill="#00fffa"/>
<rect x="631.4" y="369.9" width="36.7" height="9.7" fill="#00ffe4"/>
<rect x="631.4" y="360.4" width="36.7" height="9.7" fill="#00ffce"/>
<rect x="631.4" y="351" width="36.7" height="9.7" fill="#00ffb8"/>
<rect x="631.4" y="341.6" width="36.7" height="9.7" fill="#00ffa3"/>
<rect x="631.4" y="332.2" width="36.7" height="9.7" fill="#00ff8d"/>
<rect x="631.4" y="322.8" width="36.7" height="9.7" fill="#00ff77"/>
<rect x="631.4" y="313.4" width="36.7" height="9.7" fill="#00ff62"/>
<rect x="631.4" y="303.9" width="36.7" height="9.7" fill="#00ff4c"/>
<rect x="631.4" y="294.5" width="36.7" height="9.7" fill="#00ff36"/>
<rect x="631.4" y="285.1" width="36.7" height="9.7" fill="#00ff21"/>
<rect x="631.4" y="275.7" width="36.7" height="9.7" fill="#00ff0b"/>
<rect x="631.4" y="266.3" width="36.7" height="9.7" fill="#0bff00"/>
<rect x="631.4" y="256.9" width="36.7" height="9.7" fill="#21ff00"/>
<rect x="631.4" y="247.5" width="36.7" height="9.7" fill="#36ff00"/>
<rect x="631.4" y="238" width="36.7" height="9.7" fill="#4cff00"/>
<rect x="631.4" y="228.6" width="36.7" height="9.7" fill="#62ff00"/>
<rect x="631.4" y="219.2" width="36.7" height="9.7" fill="#77ff00"/>
<rect x="631.4" y="209.8" width="36.7" height="9.7" fill="#8dff00"/>
<rect x="631.4" y="200.4" width="36.7" height="9.7" fill="#a3ff00"/>
<rect x="631.4" y="191" width="36.7" height="9.7" fill="#b8ff00"/>
<rect x="631.4" y="181.5" width="36.7" height="9.7" fill="#ceff00"/>
<rect x="631.4" y="172.1" width="36.7" height="9.7" fill="#e4ff00"/>
<rect x="631.4" y="162.7" width="36.7" height="9.7" fill="#faff00"/>
<rect x="631.4" y="153.3" width="36.7" height="9.7" fill="#ffef00"/>
<rect x="631.4" y="143.9" width="36.7" height="9.7" fill="#ffd900"/>
<rect x="631.4" y="134.5" width="36.7" height="9.7" fill="#ffc300"/>
<rect x="631.4" y="125" width="36.7" height="9.7" fill="#ffae00"/>
<rect x="631.4" y="115.6" width="36.7" height="9.7" fill="#ff9800"/>
<rect x="631.4" y="106.2" width="36.7" height="9.7" fill="#ff8200"/>
<rect x="631.4" y="96.8" width="36.7" height="9.7" fill="#ff6d00"/>
<rect x="631.4" y="87.4" width="36.7" height="9.7" fill="#ff5700"/>
<rect x="631.4" y="78" width="36.7" height="9.7" fill="#ff4100"/>
<rect x="631.4" y="68.5" width="36.7" height="9.7" fill="#ff2b00"/>
<rect x="631.4" y="59.1" width="36.7" height="9.7" fill="#ff1600"/>
<rect x="631.4" y="50" width="36.7" height="9.4" fill="#ff0000"/>
<rect x="631.4" y="50" width="36.7" height="452" fill="none" stroke="#000" stroke-width="1.6"/>
<text x="683.5" y="507.2" font-size="15.3" textLength="36.8" lengthAdjust="spacingAndGlyphs">5.300</text>
<text x="683.5" y="450.7" font-size="15.3" textLength="36.8" lengthAdjust="spacingAndGlyphs">6.640</text>
<text x="683.5" y="394.2" font-size="15.3" textLength="36.8" lengthAdjust="spacingAndGlyphs">7.980</text>
<text x="683.5" y="337.7" font-size="15.3" textLength="36.8" lengthAdjust="spacingAndGlyphs">9.320</text>
<text x="683.5" y="281.2" font-size="15.3" textLength="36.8" lengthAdjust="spacingAndGlyphs">10.66</text>
<text x="683.5" y="224.7" font-size="15.3" textLength="36.8" lengthAdjust="spacingAndGlyphs">12.00</text>
<text x="683.5" y="168.2" font-size="15.3" textLength="36.8" lengthAdjust="spacingAndGlyphs">13.34</text>
<text x="683.5" y="111.7" font-size="15.3" textLength="36.8" lengthAdjust="spacingAndGlyphs">14.68</text>
<text x="683.5" y="55.2" font-size="15.3" textLength="36.8" lengthAdjust="spacingAndGlyphs">16.02</text>
<path d="M668.1 502h9M668.1 445.5h9M668.1 389h9M668.1 332.5h9M668.1 276h9M668.1 219.5h9M668.1 163h9M668.1 106.5h9M668.1 50h9" stroke="#000" stroke-width="1.6" fill="none"/>
<g>
<polygon points="1068.9,68.7 1219.6,129 1281,275.6 1219.7,421.7 1069,482.5 919.7,421.7 857.5,275.6 919.7,128.9" fill="#77ff00"/>
<polygon points="857.5,275.6 882.8,215.8 889.7,201.3 892.1,196.2 900.6,178.4 911.7,154.9 922.6,131.8 922.7,131.7 923.6,131.5 924.5,131.1 949.5,119.9 973,109.3 973.5,109 995.8,98.9 1011.3,91.9 1068.9,68.7 1219.6,129 1281,275.6 1219.7,421.7 1069,482.5 919.7,421.7" fill="#62ff00"/>
<polygon points="857.5,275.6 859.3,271.4 872.7,249.8 879.1,239.7 885.4,226.4 896.1,204 898.5,199 906.7,181.9 917.5,159.3 928.1,137.1 928.1,137.1 929,136.9 929.9,136.5 953.9,125.6 976.5,115.4 977,115.1 998.5,105.4 1020.2,95.6 1020.7,95.3 1043.6,82.3 1065.2,70.2 1068.9,68.7 1087.3,76.1 1094.8,79.4 1118.8,89.9 1121.7,91.2 1142.3,98.6 1155.9,103.5 1219.6,129 1281,275.6 1219.7,421.7 1069,482.5 956.5,436.7 950.2,433.1 948.7,432.3 925.3,419.3 923.7,418.3 923.3,418.2 922.8,418 912.9,395.3 902.7,371.6 897.2,358.8 892.8,348.6 882.8,325.5 876.1,309.8 871.4,301.6 860.1,281.6" fill="#4cff00"/>
<polygon points="865.4,275.6 880.2,250.7 886,241 892.2,228.2 902.6,206.7 904.9,201.9 912.8,185.4 923.2,163.7 933.5,142.4 933.5,142.4 934.3,142.2 935.2,141.8 958.3,131.3 980,121.5 980.5,121.3 1001.2,111.9 1022.1,102.4 1022.5,102.2 1044.6,90.2 1068.9,77.2 1069,77.1 1069.8,77.4 1070,77.5 1072.9,78.7 1093.8,87.6 1116.8,97.4 1119.6,98.6 1139.3,105.8 1152.5,110.5 1162.3,114.1 1186.2,122.8 1212.3,132.3 1214.5,133.1 1215.3,133.2 1227.6,153.9 1235.9,167.8 1246.3,192.8 1249.5,200.8 1258.8,224.7 1268.4,249.3 1278.6,275.6 1278.5,275.9 1278.5,275.9 1278.2,276.8 1269.2,302 1264.6,314.7 1224.7,409.8 1218.4,420.5 1218.3,420.7 1218,421.6 1216,422.6 1209.2,425.9 1129.9,457.9 1118.9,461.8 1094.6,470.2 1092.8,470.9 1071.8,478.1 1069.8,478.8 1069.8,478.8 1069,479.1 1043.7,468.1 1040,466.5 1020.2,457.9 997.6,448.1 975.1,438.3 954.8,427 953.4,426.2 931,413.6 929.3,412.7 929,412.6 928.5,412.4 919,390.7 909.1,367.9 903.7,355.6 899.5,345.8 889.8,323.6 883.2,308.6 878.9,300.6 866.2,277.1 865.6,276 865.5,275.9" fill="#36ff00"/>
<polygon points="874.1,275.6 887.6,251.7 893,242.3 898.9,230 909,209.3 911.2,204.7 918.9,188.9 929,168.2 938.9,147.8 938.9,147.7 939.7,147.5 940.5,147.1 962.7,137.1 983.6,127.6 984,127.4 1003.9,118.4 1024,109.3 1024.4,109.1 1045.6,98.1 1068.9,86.2 1069,86.1 1069.7,86.4 1070,86.5 1072.7,87.6 1092.7,95.8 1114.7,104.9 1117.5,106 1136.4,112.9 1148.9,117.5 1158.3,120.9 1181.2,129.3 1206.1,138.5 1208.2,139.2 1208.9,139.4 1220.7,159.2 1230.3,175.4 1232.7,181.1 1233.8,183.9 1242,203.9 1251.3,226.8 1260.8,250.3 1271,275.6 1270.9,275.8 1270.9,275.9 1270.6,276.7 1261.5,300.9 1252.6,324.8 1243.9,348 1235.1,371.5 1231.4,381.1 1231.3,381.3 1223.7,394.3 1212,414.2 1211.9,414.4 1211.5,415.2 1209.6,416.2 1186,428 1182.3,429.8 1176.2,432.9 1162.6,437.8 1139.6,446.1 1116.9,454.3 1093.6,462.7 1091.9,463.3 1071.7,470.6 1069.8,471.2 1069.8,471.3 1069,471.5 1044.6,460.7 1041.1,459.2 1022.1,450.8 1000.4,441.2 978.9,431.6 959.5,420.8 958.2,420 936.6,408 935,407.1 934.7,407 934.3,406.8 925.1,386 915.5,364.2 910.3,352.5 906.2,343 896.8,321.7 890.4,307.3 886.5,299.6 874.9,277 874.3,276 874.3,275.8" fill="#21ff00"/>
<polygon points="882.9,275.6 895.1,252.7 899.9,243.6 905.7,231.8 915.4,212 917.6,207.6 925,192.5 934.8,172.6 944.3,153.1 944.4,153.1 945.1,152.8 945.8,152.4 967.1,142.8 987.1,133.7 987.6,133.5 1006.6,124.9 1025.8,116.1 1026.2,115.9 1046.7,106 1068.9,95.2 1069,95.2 1069.7,95.4 1069.9,95.5 1072.5,96.6 1091.6,104 1112.7,112.3 1115.4,113.4 1133.4,120.1 1145.4,124.5 1154.3,127.8 1176.2,135.9 1199.9,144.7 1201.9,145.4 1202.5,145.6 1213.8,164.5 1223,180 1225.3,185.4 1226.4,188 1234.5,207.1 1243.7,228.8 1253.2,251.4 1263.4,275.6 1263.3,275.8 1263.3,275.9 1263,276.7 1253.9,299.9 1245,322.8 1236.3,344.9 1227.6,367.2 1224.1,376.3 1223.9,376.6 1216.7,388.9 1205.5,408 1205.4,408.2 1205.1,408.9 1203.2,409.8 1180.7,421.1 1177.2,422.9 1171.3,425.8 1158.5,430.6 1136.6,438.8 1114.9,446.9 1092.6,455.2 1090.9,455.8 1071.6,463 1069.8,463.7 1069.7,463.7 1069,464 1045.6,453.4 1042.2,451.9 1024,443.6 1003.3,434.2 982.8,425 964.2,414.6 962.9,413.9 942.2,402.4 940.7,401.5 940.4,401.4 940,401.2 931.2,381.4 921.9,360.5 916.9,349.3 912.9,340.3 903.8,319.9 897.6,306 894,298.6 883.5,277 883,276 883,275.8" fill="#0bff00"/>
<polygon points="891.6,275.6 902.5,253.7 906.8,244.9 912.4,233.6 921.9,214.7 924,210.4 931.1,196 940.5,177 949.8,158.5 949.8,158.4 950.4,158.1 951.2,157.8 971.5,148.5 990.6,139.8 991.1,139.6 1009.3,131.4 1027.7,123 1028.1,122.8 1047.7,113.9 1068.9,104.2 1069,104.2 1069.7,104.4 1069.9,104.5 1072.4,105.5 1090.5,112.2 1110.7,119.8 1113.3,120.8 1130.5,127.2 1141.9,131.5 1150.4,134.7 1171.2,142.4 1193.7,150.9 1195.6,151.6 1196.2,151.8 1206.9,169.8 1215.7,184.5 1217.9,189.6 1219,192.1 1227,210.2 1236.1,230.8 1245.6,252.4 1255.8,275.6 1255.7,275.8 1255.7,275.9 1255.4,276.6 1246.3,298.9 1237.4,320.7 1228.8,341.8 1220.2,362.9 1216.7,371.5 1216.5,371.8 1209.7,383.6 1199.1,401.7 1199,401.9 1198.6,402.6 1196.9,403.5 1175.4,414.2 1172.1,415.9 1166.5,418.7 1154.3,423.4 1133.6,431.4 1112.9,439.4 1091.6,447.6 1090,448.3 1071.5,455.4 1069.7,456.1 1069.7,456.1 1069,456.4 1046.6,446 1043.3,444.5 1025.9,436.5 1006.1,427.3 986.6,418.3 968.8,408.4 967.6,407.7 947.9,396.7 946.4,396 946.2,395.8 945.8,395.6 937.3,376.7 928.3,356.8 923.4,346.1 919.6,337.5 910.8,318 904.8,304.7 901.6,297.6 892.2,276.9 891.8,275.9 891.7,275.8" fill="#00ff0b"/>
<polygon points="900.3,275.6 909.9,254.7 913.8,246.3 919.2,235.5 928.3,217.3 930.3,213.3 937.2,199.5 946.3,181.5 955.2,163.8 955.2,163.7 955.8,163.4 956.5,163.1 975.9,154.3 994.2,146 994.6,145.8 1011.9,137.9 1029.5,129.8 1029.9,129.7 1048.7,121.8 1068.9,113.3 1069,113.2 1069.6,113.5 1069.8,113.5 1072.2,114.4 1089.4,120.5 1108.7,127.3 1111.2,128.2 1127.5,134.3 1138.3,138.5 1146.4,141.5 1166.2,149 1187.5,157.1 1189.3,157.7 1189.8,158 1200,175.1 1208.4,189 1210.6,193.9 1211.7,196.2 1219.5,213.3 1228.5,232.9 1237.9,253.4 1248.2,275.6 1248.1,275.8 1248.1,275.9 1247.8,276.6 1238.7,297.9 1229.8,318.7 1221.3,338.7 1212.8,358.6 1209.3,366.7 1209.2,367 1202.7,378.2 1192.7,395.5 1192.6,395.7 1192.1,396.3 1190.5,397.1 1170.1,407.4 1166.9,408.9 1161.7,411.6 1150.2,416.2 1130.5,424.1 1110.9,432 1090.7,440.1 1089.1,440.7 1071.4,447.9 1069.7,448.5 1069.7,448.6 1069,448.8 1047.5,438.7 1044.5,437.2 1027.8,429.3 1009,420.4 990.5,411.6 973.5,402.2 972.3,401.6 953.5,391.1 952.1,390.4 951.9,390.2 951.6,390 943.3,372 934.7,353.1 930,342.9 926.3,334.7 917.7,316.1 911.9,303.5 909.1,296.7 900.9,276.9 900.5,275.9 900.4,275.8" fill="#00ff21"/>
<polygon points="909.1,275.6 917.4,255.6 920.7,247.6 925.9,237.3 934.7,220 936.7,216.2 943.4,203.1 952.1,185.9 960.6,169.1 960.7,169.1 961.1,168.7 961.8,168.4 980.3,160 997.7,152.1 998.1,151.9 1014.6,144.3 1031.4,136.7 1031.7,136.6 1049.8,129.7 1068.9,122.3 1069,122.3 1069.6,122.5 1069.8,122.5 1072,123.3 1088.3,128.7 1106.7,134.8 1109.1,135.5 1124.5,141.5 1134.8,145.4 1142.5,148.4 1161.1,155.5 1181.3,163.3 1183,163.9 1183.5,164.2 1193.1,180.3 1201.1,193.6 1203.2,198.1 1204.3,200.3 1212,216.4 1220.9,234.9 1230.3,254.4 1240.6,275.6 1240.5,275.8 1240.5,275.8 1240.2,276.5 1231,296.9 1222.2,316.6 1213.7,335.6 1205.4,354.3 1202,361.9 1201.8,362.2 1195.7,372.8 1186.2,389.2 1186.1,389.4 1185.7,390 1184.1,390.7 1164.8,400.5 1161.8,402 1156.8,404.5 1146,409 1127.5,416.8 1108.9,424.5 1089.7,432.6 1088.2,433.2 1071.3,440.3 1069.7,441 1069.6,441 1069,441.3 1048.5,431.3 1045.6,429.9 1029.7,422.2 1011.9,413.5 994.3,405 978.2,396 977,395.4 959.1,385.5 957.8,384.8 957.6,384.6 957.3,384.4 949.4,367.4 941.1,349.5 936.6,339.7 933,332 924.7,314.3 919.1,302.2 916.7,295.7 909.5,276.8 909.2,275.9 909.1,275.8" fill="#00ff36"/>
<polygon points="917.8,275.6 924.8,256.6 927.6,248.9 932.7,239.1 941.2,222.6 943,219 949.5,206.6 957.9,190.3 966.1,174.5 966.1,174.4 966.5,174.1 967.2,173.8 984.7,165.7 1001.2,158.2 1001.6,158 1017.3,150.8 1033.2,143.5 1033.6,143.4 1050.8,137.6 1068.9,131.3 1069,131.3 1069.6,131.5 1069.7,131.5 1071.8,132.2 1087.3,136.9 1104.7,142.3 1106.9,142.9 1121.6,148.6 1131.3,152.4 1138.5,155.2 1156.1,162.1 1175.1,169.5 1176.7,170.1 1177.1,170.4 1186.2,185.6 1193.7,198.1 1195.9,202.4 1196.9,204.4 1204.5,219.5 1213.3,236.9 1222.7,255.4 1233,275.6 1232.9,275.8 1232.9,275.8 1232.6,276.5 1223.4,295.9 1214.6,314.6 1206.2,332.4 1197.9,350 1194.6,357.2 1194.5,357.4 1188.7,367.5 1179.8,383 1179.7,383.2 1179.2,383.6 1177.8,384.4 1159.5,393.6 1156.7,395 1152,397.4 1141.9,401.8 1124.4,409.4 1106.9,417.1 1088.7,425.1 1087.3,425.7 1071.2,432.7 1069.7,433.4 1069.6,433.4 1069,433.7 1049.5,423.9 1046.7,422.6 1031.6,415 1014.7,406.6 998.1,398.3 982.8,389.9 981.8,389.3 964.7,379.9 963.5,379.2 963.3,379 963.1,378.8 955.5,362.7 947.5,345.8 943.1,336.6 939.6,329.2 931.7,312.4 926.3,300.9 924.2,294.7 918.2,276.7 917.9,275.9 917.9,275.8" fill="#00ff4c"/>
<polygon points="926.5,275.6 932.2,257.6 934.5,250.2 939.4,240.9 947.6,225.3 949.4,221.9 955.6,210.1 963.6,194.8 971.5,179.8 971.5,179.7 971.9,179.4 972.5,179.1 989.1,171.5 1004.7,164.3 1005.1,164.1 1020,157.3 1035.1,150.4 1035.4,150.3 1051.9,145.5 1068.9,140.4 1069,140.3 1069.5,140.5 1069.7,140.5 1071.7,141.1 1086.2,145.1 1102.7,149.7 1104.8,150.3 1118.6,155.8 1127.8,159.4 1134.5,162.1 1151.1,168.6 1168.9,175.7 1170.4,176.3 1170.7,176.6 1179.4,190.9 1186.4,202.7 1188.5,206.6 1189.5,208.5 1197,222.6 1205.8,239 1215.1,256.4 1225.4,275.6 1225.3,275.8 1225.3,275.8 1225,276.5 1215.8,294.9 1207,312.6 1198.7,329.3 1190.5,345.8 1187.2,352.4 1187.1,352.6 1181.7,362.1 1173.3,376.8 1173.3,376.9 1172.8,377.3 1171.4,378 1154.2,386.7 1151.6,388 1147.1,390.3 1137.7,394.6 1121.4,402.1 1104.9,409.6 1087.7,417.5 1086.4,418.1 1071.1,425.2 1069.6,425.8 1069.6,425.9 1069,426.1 1050.4,416.6 1047.8,415.2 1033.6,407.9 1017.6,399.7 1002,391.7 987.5,383.7 986.5,383.1 970.4,374.2 969.2,373.6 969.1,373.4 968.8,373.2 961.6,358 953.9,342.1 949.7,333.4 946.3,326.4 938.7,310.5 933.5,299.6 931.7,293.7 926.8,276.7 926.6,275.9 926.6,275.8" fill="#00ff62"/>
<polygon points="935.3,275.6 939.7,258.6 941.5,251.5 946.2,242.7 954,228 955.8,224.7 961.7,213.6 969.4,199.2 976.9,185.1 976.9,185.1 977.2,184.7 977.8,184.4 993.5,177.2 1008.3,170.4 1008.6,170.3 1022.7,163.8 1036.9,157.2 1037.3,157.2 1052.9,153.3 1068.9,149.4 1069,149.4 1069.5,149.5 1069.7,149.5 1071.5,150 1085.1,153.4 1100.7,157.2 1102.7,157.7 1115.7,162.9 1124.2,166.4 1130.6,168.9 1146.1,175.2 1162.7,181.9 1164.1,182.4 1164.4,182.8 1172.5,196.2 1179.1,207.2 1181.1,210.9 1182.1,212.6 1189.5,225.7 1198.2,241 1207.4,257.4 1217.8,275.6 1217.7,275.8 1217.7,275.8 1217.4,276.4 1208.1,293.9 1199.4,310.5 1191.1,326.2 1183.1,341.5 1179.9,347.6 1179.8,347.8 1174.7,356.7 1166.9,370.5 1166.8,370.7 1166.3,371 1165,371.6 1149,379.8 1146.5,381.1 1142.3,383.2 1133.6,387.4 1118.3,394.7 1102.9,402.2 1086.7,410 1085.4,410.6 1071,417.6 1069.6,418.3 1069.6,418.3 1069,418.6 1051.4,409.2 1048.9,407.9 1035.5,400.8 1020.5,392.8 1005.8,385 992.1,377.5 991.2,377 976,368.6 974.9,368 974.8,367.8 974.6,367.5 967.6,353.4 960.3,338.4 956.3,330.2 953,323.6 945.7,308.6 940.6,298.4 939.3,292.7 935.5,276.6 935.3,275.9 935.3,275.8" fill="#00ff77"/>
<polygon points="944,275.6 947.1,259.6 948.4,252.8 952.9,244.5 960.5,230.6 962.1,227.6 967.8,217.2 975.2,203.6 982.4,190.5 982.4,190.4 982.6,190 983.1,189.7 997.9,182.9 1011.8,176.5 1012.1,176.4 1025.4,170.3 1038.8,164.1 1039.1,164 1053.9,161.2 1068.9,158.4 1069,158.4 1069.4,158.5 1069.6,158.5 1071.3,158.9 1084,161.6 1098.7,164.7 1100.6,165.1 1112.7,170.1 1120.7,173.4 1126.6,175.8 1141,181.7 1156.5,188.1 1157.8,188.6 1158,189 1165.6,201.5 1171.8,211.8 1173.8,215.1 1174.8,216.8 1182,228.8 1190.6,243 1199.8,258.4 1210.2,275.6 1210.1,275.8 1210.1,275.8 1209.8,276.4 1200.5,292.9 1191.8,308.5 1183.6,323.1 1175.7,337.2 1172.5,342.8 1172.4,343 1167.7,351.3 1160.5,364.3 1160.4,364.4 1159.9,364.7 1158.7,365.3 1143.7,372.9 1141.4,374.1 1137.5,376.1 1129.4,380.2 1115.3,387.4 1100.9,394.7 1085.7,402.5 1084.5,403.1 1070.9,410.1 1069.6,410.7 1069.5,410.7 1069,411 1052.4,401.9 1050,400.6 1037.4,393.6 1023.3,385.9 1009.7,378.4 996.8,371.3 995.9,370.8 981.6,363 980.6,362.4 980.5,362.2 980.4,361.9 973.7,348.7 966.7,334.7 962.8,327 959.7,320.9 952.7,306.8 947.8,297.1 946.8,291.7 944.2,276.5 944,275.8 944,275.8" fill="#00ff8d"/>
<polygon points="959.4,275.6 962.1,261.5 963.2,255.6 966.6,248.2 972.2,235.5 973.4,232.7 979,223.6 986.1,212 992.9,200.8 992.9,200.8 993.1,200.4 993.5,200.1 1005.6,193 1017.2,185.9 1017.5,185.8 1029.8,181 1042.1,176.3 1042.4,176.2 1055.6,173.7 1068.9,171.2 1069,171.2 1069.4,171.3 1069.5,171.3 1071.1,171.6 1082.4,174 1095.5,176.8 1097.1,177.2 1108.1,181.1 1115.5,183.7 1120.6,186.3 1132.9,192.4 1145.9,198.7 1146.9,199.3 1147.1,199.5 1154.6,209.9 1160.9,218.5 1163,221.3 1164.1,222.7 1169.5,234 1175.9,247 1182.7,260.6 1190.2,275.6 1190.2,275.7 1190.1,275.8 1189.9,276.3 1183.2,290.6 1176.8,304.5 1170.8,317.8 1164.9,331 1162.6,336.3 1162.5,336.5 1157.8,343.8 1150.8,354.9 1150.7,355 1150.3,355.2 1149.3,355.9 1136.7,363.8 1134.7,365 1130.9,366.5 1123.2,369.5 1110,374.6 1096.9,379.9 1083.5,385.4 1082.4,385.8 1070.6,390.8 1069.5,391.2 1069.5,391.2 1069,391.4 1054.6,385 1052.5,384.1 1041.3,379.2 1028.4,373.7 1015.5,368.3 1002.9,363.2 1002.2,362.6 990.7,353.9 989.9,353.3 989.8,353.1 989.7,352.8 983.6,341.1 977.2,328.6 973.7,321.8 971.4,316 966.2,303.2 962.6,294.5 961.8,289.7 959.6,276.4 959.5,275.8 959.4,275.7" fill="#00ffa3"/>
<polygon points="974.9,275.6 977.1,263.5 978,258.4 980.2,251.8 983.9,240.4 984.7,237.8 990.1,230.1 997,220.3 1003.4,211.1 1003.4,211.1 1003.6,210.8 1003.9,210.5 1013.3,203 1022.6,195.3 1022.9,195.1 1034.3,191.8 1045.4,188.5 1045.6,188.4 1057.2,186.3 1069,184.1 1069,184.1 1069.3,184.1 1069.5,184.1 1070.8,184.4 1080.7,186.5 1092.2,188.9 1093.7,189.2 1103.6,192.1 1110.2,194.1 1114.5,196.8 1124.7,203 1135.2,209.4 1136,209.9 1136.3,210.1 1143.7,218.3 1150.1,225.2 1152.3,227.5 1153.3,228.7 1157,239.2 1161.1,250.9 1165.5,262.9 1170.2,275.6 1170.2,275.7 1170.2,275.7 1170.1,276.2 1165.9,288.4 1161.9,300.5 1158,312.5 1154.2,324.8 1152.6,329.9 1152.6,330.1 1148,336.2 1141,345.4 1141,345.5 1140.6,345.8 1139.8,346.4 1129.7,354.7 1128,356 1124.4,356.9 1117,358.7 1104.7,361.9 1093,365.1 1081.2,368.3 1080.3,368.6 1070.3,371.5 1069.4,371.7 1069.4,371.8 1069,371.8 1056.8,368.1 1055,367.6 1045.1,364.7 1033.4,361.4 1021.3,358.2 1009.1,355 1008.5,354.4 999.8,344.8 999.2,344.1 999.1,344 999,343.8 993.6,333.5 987.7,322.5 984.5,316.5 983,311.2 979.7,299.5 977.4,291.8 976.8,287.7 975,276.3 974.9,275.8 974.9,275.7" fill="#00ffb8"/>
<polygon points="990.3,275.6 992.1,265.5 992.8,261.2 993.8,255.5 995.6,245.2 996,242.8 1001.3,236.5 1007.9,228.7 1013.9,221.5 1013.9,221.4 1014.1,221.2 1014.3,220.9 1021,213 1028.1,204.7 1028.2,204.5 1038.7,202.5 1048.7,200.6 1048.9,200.6 1058.9,198.8 1069,196.9 1069,196.9 1069.3,196.8 1069.4,196.9 1070.5,197.1 1079.1,198.9 1089,201 1090.2,201.3 1099,203.2 1105,204.5 1108.5,207.2 1116.5,213.7 1124.5,220.1 1125.2,220.6 1125.4,220.7 1132.8,226.7 1139.3,231.9 1141.5,233.7 1142.6,234.6 1144.4,244.3 1146.4,254.9 1148.3,265.2 1150.3,275.6 1150.3,275.7 1150.3,275.7 1150.2,276 1148.6,286.1 1146.9,296.5 1145.2,307.2 1143.4,318.6 1142.7,323.4 1142.6,323.6 1138.1,328.6 1131.3,336 1131.3,336.1 1131,336.4 1130.4,337 1122.7,345.5 1121.4,346.9 1117.8,347.3 1110.8,348 1099.5,349.2 1089,350.2 1079,351.3 1078.2,351.3 1070.1,352.2 1069.3,352.3 1069.3,352.3 1069,352.2 1059,351.2 1057.5,351.1 1049,350.2 1038.5,349.2 1027.2,348.1 1015.2,346.9 1014.8,346.2 1008.9,335.7 1008.5,335 1008.5,334.8 1008.4,334.7 1003.5,325.9 998.2,316.5 995.4,311.3 994.7,306.4 993.2,295.9 992.2,289.2 991.7,285.8 990.4,276.2 990.3,275.8 990.3,275.7" fill="#00ffce"/>
<polygon points="1016.4,275.6 1021.9,269.4 1023.9,267.1 1026.4,264.2 1030.5,259.6 1031.3,258.7 1034.2,255.5 1037.7,251.6 1040.9,248 1040.9,248 1041,247.9 1041.2,247.8 1044.7,243.9 1048.3,239.8 1048.4,239.7 1052.4,235.5 1056.8,230.7 1056.9,230.6 1062.3,224.8 1069,217.6 1069,217.6 1069.2,217.3 1069.3,217.3 1070.1,217.9 1076,222.7 1081.9,227.5 1082.6,228.1 1087.1,231.8 1090,234.1 1092,235.8 1096.6,239.6 1101.2,243.4 1101.5,243.7 1101.6,243.8 1105.9,247.3 1109.6,250.4 1110.8,251.5 1111.5,252 1116.2,256.1 1122.3,261.3 1129.7,267.6 1139.2,275.6 1139.3,275.7 1139.3,275.7 1139,276 1132.1,283.9 1126.1,290.9 1120.8,297 1115.9,302.7 1114.1,304.9 1114,304.9 1111.3,308 1107.2,312.6 1107.2,312.7 1107,312.8 1106.7,313.3 1102,318.6 1101.2,319.4 1099.9,320.9 1097,324 1091.5,330 1085.4,336.8 1078.1,344.8 1077.5,345.5 1070,348 1069.3,348.3 1069.3,348.3 1069,348.2 1059.8,345.8 1058.4,345.5 1052.7,336.3 1047.4,327.7 1043,320.6 1039.4,314.8 1039.2,314.5 1035.8,308.8 1035.6,308.4 1035.5,308.4 1035.5,308.3 1032.6,303.5 1029.6,298.4 1027.9,295.5 1026.5,293.2 1023.4,287.8 1021.2,284.1 1020,282.1 1016.4,276 1016.3,275.7 1016.3,275.7" fill="#00ffe4"/>
<polygon points="1055.1,275.6 1056.6,274 1057.1,273.4 1057.8,272.6 1058.9,271.4 1059.1,271.2 1059.8,270.3 1060.8,269.3 1061.6,268.3 1061.6,268.3 1061.6,268.3 1061.7,268.3 1062.6,267.2 1063.6,266.2 1063.6,266.1 1064.6,265 1065.8,263.7 1065.8,263.7 1067.2,262.1 1069,260.1 1069,260.1 1069.1,260 1069.1,260 1069.3,259.8 1070.9,261.1 1072.5,262.5 1072.7,262.7 1073.9,263.7 1074.7,264.4 1075.2,264.8 1076.4,265.9 1077.7,266.9 1077.8,267 1077.8,267 1078.9,268 1079.9,268.8 1080.2,269.1 1080.4,269.3 1081.7,270.4 1083.3,271.8 1085.3,273.5 1087.8,275.6 1087.8,275.6 1087.8,275.6 1087.9,275.7 1086.1,277.9 1084.5,279.8 1083.1,281.4 1081.8,283 1081.3,283.6 1081.3,283.6 1080.6,284.5 1079.5,285.8 1079.5,285.8 1079.5,285.9 1079.4,286 1078.1,287.5 1077.9,287.7 1077.6,288.2 1076.8,289.1 1075.3,290.9 1073.6,292.9 1071.6,295.4 1071.4,295.6 1069.3,298.1 1069.1,297.7 1069.1,297.7 1069,297.6 1066.6,294 1066.3,293.5 1064.8,291.2 1063.4,289 1062.3,287.2 1061.4,285.7 1061.3,285.6 1060.4,284.2 1060.3,284.1 1060.3,284.1 1060.3,284.1 1059.5,282.9 1058.7,281.5 1058.2,280.8 1057.9,280.2 1057,278.8 1056.4,277.8 1056,277.3 1055,275.7 1055.1,275.6 1055.1,275.6" fill="#00fffa"/>
</g>
<polygon points="1069,158.4 1100.6,165.1 1157.8,188.6 1210.2,275.6 1160.4,364.4 1069,411 980.6,362.4 947.8,297.1 944,275.6 948.4,252.8 982.6,190 1038.8,164.1" fill="none" stroke="#3a3a3a" stroke-width="1.05" stroke-linejoin="round"/>
<polygon points="1069,104.2 1196.2,151.8 1215.7,184.5 1255.8,275.6 1216.7,371.5 1198.6,402.6 1166.5,418.7 1069,456.4 986.6,418.3 945.8,395.6 891.6,275.6 949.8,158.4" fill="none" stroke="#3a3a3a" stroke-width="1.05" stroke-linejoin="round"/>
<rect x="833.8" y="45.4" width="471.1" height="460.1" fill="none" stroke="#000" stroke-width="1.9"/>
<path d="M833.8 505.5v4.6M833.8 505.5h-4.6M880.9 505.5v9M833.8 459.5h-9M928 505.5v4.6M833.8 413.5h-4.6M975.1 505.5v9M833.8 367.5h-9M1022.2 505.5v4.6M833.8 321.5h-4.6M1069.3 505.5v9M833.8 275.4h-9M1116.5 505.5v4.6M833.8 229.4h-4.6M1163.6 505.5v9M833.8 183.4h-9M1210.7 505.5v4.6M833.8 137.4h-4.6M1257.8 505.5v9M833.8 91.4h-9M1304.9 505.5v4.6M833.8 45.4h-4.6" stroke="#000" stroke-width="2" fill="none"/>
<text x="880.9" y="536.3" font-size="19.5" text-anchor="middle">-4</text>
<text x="818.6" y="464.7" font-size="19.5" text-anchor="end">-4</text>
<text x="975.1" y="536.3" font-size="19.5" text-anchor="middle">-2</text>
<text x="818.6" y="372.7" font-size="19.5" text-anchor="end">-2</text>
<text x="1069.3" y="536.3" font-size="19.5" text-anchor="middle">0</text>
<text x="818.6" y="280.6" font-size="19.5" text-anchor="end">0</text>
<text x="1163.6" y="536.3" font-size="19.5" text-anchor="middle">2</text>
<text x="818.6" y="188.6" font-size="19.5" text-anchor="end">2</text>
<text x="1257.8" y="536.3" font-size="19.5" text-anchor="middle">4</text>
<text x="818.6" y="96.6" font-size="19.5" text-anchor="end">4</text>
<rect x="1381" y="490.2" width="37.1" height="9.6" fill="#0000ff"/>
<rect x="1381" y="480.8" width="37.1" height="9.6" fill="#0016ff"/>
<rect x="1381" y="471.5" width="37.1" height="9.6" fill="#002bff"/>
<rect x="1381" y="462.1" width="37.1" height="9.6" fill="#0041ff"/>
<rect x="1381" y="452.8" width="37.1" height="9.6" fill="#0057ff"/>
<rect x="1381" y="443.4" width="37.1" height="9.6" fill="#006dff"/>
<rect x="1381" y="434.1" width="37.1" height="9.6" fill="#0082ff"/>
<rect x="1381" y="424.7" width="37.1" height="9.6" fill="#0098ff"/>
<rect x="1381" y="415.4" width="37.1" height="9.6" fill="#00aeff"/>
<rect x="1381" y="406" width="37.1" height="9.6" fill="#00c3ff"/>
<rect x="1381" y="396.7" width="37.1" height="9.6" fill="#00d9ff"/>
<rect x="1381" y="387.3" width="37.1" height="9.6" fill="#00efff"/>
<rect x="1381" y="378" width="37.1" height="9.6" fill="#00fffa"/>
<rect x="1381" y="368.6" width="37.1" height="9.6" fill="#00ffe4"/>
<rect x="1381" y="359.3" width="37.1" height="9.6" fill="#00ffce"/>
<rect x="1381" y="349.9" width="37.1" height="9.6" fill="#00ffb8"/>
<rect x="1381" y="340.6" width="37.1" height="9.6" fill="#00ffa3"/>
<rect x="1381" y="331.2" width="37.1" height="9.6" fill="#00ff8d"/>
<rect x="1381" y="321.9" width="37.1" height="9.6" fill="#00ff77"/>
<rect x="1381" y="312.5" width="37.1" height="9.6" fill="#00ff62"/>
<rect x="1381" y="303.2" width="37.1" height="9.6" fill="#00ff4c"/>
<rect x="1381" y="293.8" width="37.1" height="9.6" fill="#00ff36"/>
<rect x="1381" y="284.5" width="37.1" height="9.6" fill="#00ff21"/>
<rect x="1381" y="275.1" width="37.1" height="9.6" fill="#00ff0b"/>
<rect x="1381" y="265.8" width="37.1" height="9.6" fill="#0bff00"/>
<rect x="1381" y="256.5" width="37.1" height="9.6" fill="#21ff00"/>
<rect x="1381" y="247.1" width="37.1" height="9.6" fill="#36ff00"/>
<rect x="1381" y="237.8" width="37.1" height="9.6" fill="#4cff00"/>
<rect x="1381" y="228.4" width="37.1" height="9.6" fill="#62ff00"/>
<rect x="1381" y="219.1" width="37.1" height="9.6" fill="#77ff00"/>
<rect x="1381" y="209.7" width="37.1" height="9.6" fill="#8dff00"/>
<rect x="1381" y="200.4" width="37.1" height="9.6" fill="#a3ff00"/>
<rect x="1381" y="191" width="37.1" height="9.6" fill="#b8ff00"/>
<rect x="1381" y="181.7" width="37.1" height="9.6" fill="#ceff00"/>
<rect x="1381" y="172.3" width="37.1" height="9.6" fill="#e4ff00"/>
<rect x="1381" y="163" width="37.1" height="9.6" fill="#faff00"/>
<rect x="1381" y="153.6" width="37.1" height="9.6" fill="#ffef00"/>
<rect x="1381" y="144.3" width="37.1" height="9.6" fill="#ffd900"/>
<rect x="1381" y="134.9" width="37.1" height="9.6" fill="#ffc300"/>
<rect x="1381" y="125.6" width="37.1" height="9.6" fill="#ffae00"/>
<rect x="1381" y="116.2" width="37.1" height="9.6" fill="#ff9800"/>
<rect x="1381" y="106.9" width="37.1" height="9.6" fill="#ff8200"/>
<rect x="1381" y="97.5" width="37.1" height="9.6" fill="#ff6d00"/>
<rect x="1381" y="88.2" width="37.1" height="9.6" fill="#ff5700"/>
<rect x="1381" y="78.8" width="37.1" height="9.6" fill="#ff4100"/>
<rect x="1381" y="69.5" width="37.1" height="9.6" fill="#ff2b00"/>
<rect x="1381" y="60.1" width="37.1" height="9.6" fill="#ff1600"/>
<rect x="1381" y="51.1" width="37.1" height="9.3" fill="#ff0000"/>
<rect x="1381" y="51.1" width="37.1" height="448.7" fill="none" stroke="#000" stroke-width="1.6"/>
<text x="1434" y="505" font-size="15.3" textLength="36.8" lengthAdjust="spacingAndGlyphs">5.300</text>
<text x="1434" y="448.9" font-size="15.3" textLength="36.8" lengthAdjust="spacingAndGlyphs">6.640</text>
<text x="1434" y="392.8" font-size="15.3" textLength="36.8" lengthAdjust="spacingAndGlyphs">7.980</text>
<text x="1434" y="336.7" font-size="15.3" textLength="36.8" lengthAdjust="spacingAndGlyphs">9.320</text>
<text x="1434" y="280.7" font-size="15.3" textLength="36.8" lengthAdjust="spacingAndGlyphs">10.66</text>
<text x="1434" y="224.6" font-size="15.3" textLength="36.8" lengthAdjust="spacingAndGlyphs">12.00</text>
<text x="1434" y="168.5" font-size="15.3" textLength="36.8" lengthAdjust="spacingAndGlyphs">13.34</text>
<text x="1434" y="112.4" font-size="15.3" textLength="36.8" lengthAdjust="spacingAndGlyphs">14.68</text>
<text x="1434" y="56.3" font-size="15.3" textLength="36.8" lengthAdjust="spacingAndGlyphs">16.02</text>
<path d="M1418.1 499.8h9M1418.1 443.7h9M1418.1 387.6h9M1418.1 331.5h9M1418.1 275.5h9M1418.1 219.4h9M1418.1 163.3h9M1418.1 107.2h9M1418.1 51.1h9" stroke="#000" stroke-width="1.6" fill="none"/>
<g>
<polygon points="694.5,652.5 843.7,712.7 905.9,859.2 844.7,1005.3 694.5,1065.9 544.7,1005.3 483.1,859.2 545.3,712.7" fill="#ff6d00"/>
<polygon points="483.1,859.2 545.3,712.7 694.5,652.5 843.7,712.7 905.9,859.2 851.4,989.2 844.2,1003.9 844.1,1004.2 844.1,1004.7 844,1005.2 842.2,1006.3 694.5,1065.9 544.7,1005.3" fill="#ff8200"/>
<polygon points="483.1,859.2 545.3,712.7 694.5,652.5 843.7,712.7 905.9,859.2 876.1,930.4 874.4,933.7 863.1,956.6 851.6,979.8 841.1,1000.9 841.1,1001.3 841,1001.7 840.8,1002.2 838.8,1003.5 819.2,1015.6 694.5,1065.9 544.7,1005.3" fill="#ff9800"/>
<polygon points="483.1,859.2 545.3,712.7 694.5,652.5 843.7,712.7 905.9,859.2 899.2,875.2 894.1,885.5 882.1,909.5 870.8,932.2 859.7,954.6 848.4,977.3 838.1,997.9 838,998.3 837.9,998.7 837.7,999.1 835.7,1000.4 813.4,1014.2 796.1,1024.9 694.5,1065.9 544.7,1005.3" fill="#ffae00"/>
<polygon points="483.1,859.2 545.3,712.7 694.5,652.5 843.7,712.7 893.9,830.9 894.5,832.9 894.8,833.9 903,859.2 902.7,859.8 890.1,885 878.3,908.5 867.2,930.7 856.2,952.6 845.1,974.8 835,995 834.9,995.3 834.8,995.6 834.6,996.1 832.6,997.3 810.8,1010.8 789.6,1024 785.8,1026.3 773.1,1034.2 694.5,1065.9 544.7,1005.3" fill="#ffc300"/>
<polygon points="483.1,859.2 545.3,712.7 694.5,652.5 843.7,712.7 876.9,790.8 882.6,808.8 890.5,833.4 890.9,834.4 898.8,859.2 898.5,859.8 886.1,884.4 874.5,907.4 863.6,929.2 852.8,950.6 841.9,972.3 831.9,992 831.8,992.3 831.7,992.6 831.5,993.1 829.6,994.3 808.3,1007.5 787.5,1020.3 783.8,1022.6 766.6,1033.2 750,1043.5 694.5,1065.9 544.7,1005.3" fill="#ffd900"/>
<polygon points="483.1,859.2 545.3,712.7 694.5,652.5 828.7,706.7 839.9,713.8 841.5,714.9 843.8,713 862.3,756.4 863.8,761.5 868.4,777.1 871.2,786 878.8,809.8 886.6,833.9 886.9,834.9 894.7,859.2 894.4,859.8 882.1,883.9 870.7,906.4 859.9,927.7 849.3,948.6 838.6,969.8 828.9,989 828.7,989.3 828.6,989.6 828.4,990 826.5,991.2 805.7,1004.1 785.4,1016.6 781.8,1018.9 765,1029.3 743.6,1042.5 726.9,1052.8 694.5,1065.9 544.7,1005.3" fill="#ffef00"/>
<polygon points="486.8,859.2 495.4,833 498.1,824.9 498.2,823.5 545.3,712.7 694.5,652.5 800.8,695.4 813.8,703.7 835.8,717.9 837.4,718.9 844,713.6 844,713.7 851.9,738.4 860,763.7 864.8,778.7 867.6,787.5 875,810.8 882.6,834.4 882.9,835.4 890.5,859.2 890.2,859.8 878.2,883.4 866.9,905.4 856.3,926.2 845.9,946.6 835.4,967.3 825.8,986.1 825.6,986.3 825.5,986.6 825.3,987 823.4,988.1 803.1,1000.7 783.3,1013 779.8,1015.2 763.3,1025.3 742.5,1038.2 719.9,1052.2 703.8,1062.1 694.5,1065.9 668.9,1054 657.2,1050.8 544.7,1005.3 503.3,907.1 499.2,889.4 497.5,885.1 487,859.7" fill="#faff00"/>
<polygon points="491.2,859.2 499.6,833.5 502.2,825.7 505,808.4 505.2,807.2 545.3,712.7 694.5,652.5 740.1,670.9 744.4,672.9 767.3,683.5 780.5,689.7 783.7,691.2 789.4,694.8 810.4,708.2 831.8,721.9 833.3,722.9 838.9,718.5 838.9,718.7 847.1,742.1 855.5,766.2 860.6,780.7 863.3,789.3 870.6,812 877.9,835.1 878.2,836 885.6,859.2 885.3,859.8 873.5,882.8 862.5,904.2 852,924.5 841.9,944.3 831.5,964.3 822.2,982.6 822,982.8 821.9,983.1 821.6,983.4 819.8,984.5 800.1,996.8 780.8,1008.7 777.4,1010.8 761.4,1020.7 741.1,1033.2 719.2,1046.8 699.8,1058.7 694.5,1060.4 669.5,1049.2 645.4,1042.3 621.5,1035.3 612.1,1032.6 583.1,1020.8 574.2,1016 570.9,1014.2 550.6,1003.1 549,1002.3 548.9,1002 548.6,1001.5 535.2,981.5 533.8,979.4 515.8,936.9 514.9,933.6 508.4,909.1 503.3,888.8 501.6,884.6 491.4,859.7" fill="#e4ff00"/>
<polygon points="495.6,859.2 503.8,834.1 506.4,826.4 509.5,809.6 514.4,785.6 545.3,712.7 653.8,668.9 668.8,664.1 683.6,659.4 694.5,655.4 719.8,667.3 743,678.2 765.1,688.7 778,694.7 781.1,696.2 786.6,699.7 806.9,712.7 827.7,726 829.2,726.9 833.8,723.5 833.8,723.6 842.3,745.8 851.1,768.8 856.4,782.7 859.1,791 866.1,813.2 873.2,835.7 873.5,836.6 880.7,859.2 880.4,859.8 868.8,882.1 858,903 847.8,922.7 837.8,941.9 827.7,961.4 818.6,979.1 818.4,979.3 818.2,979.5 818,979.9 816.2,980.9 797,992.8 778.3,1004.4 775,1006.4 759.5,1016 739.8,1028.2 718.5,1041.4 699.7,1053 694.5,1054.9 670.1,1044.3 646.8,1037.3 623.6,1030.3 599.9,1023.1 598.9,1022.8 577.8,1011.3 574.6,1009.6 554.8,998.9 553.3,998 553.2,997.8 552.9,997.4 539.8,977.9 528.3,960.6 526.9,956 519.7,931.6 512.8,907.9 507.3,888.2 505.7,884.1 495.8,859.7" fill="#ceff00"/>
<polygon points="500,859.2 508,834.7 510.5,827.1 514.1,810.9 519.6,786.8 525.6,761.7 527,755.7 535.7,735.4 549.3,716.9 549.4,716.7 549.4,716.7 551.1,715.8 559.9,711 574.7,703.1 582.9,698.7 598.7,693.3 622.5,685.4 645.8,677.6 669.5,669.7 683.9,664.9 694.5,661 719,672.8 741.6,683.5 763,693.8 775.4,699.8 778.4,701.2 783.7,704.6 803.5,717.2 823.7,730 825.1,730.9 828.7,728.4 828.8,728.6 837.5,749.5 846.6,771.4 852.2,784.7 854.8,792.8 861.6,814.4 868.6,836.3 868.8,837.2 875.8,859.2 875.5,859.8 864.1,881.5 853.5,901.8 843.5,920.9 833.8,939.6 823.9,958.5 814.9,975.6 814.8,975.8 814.6,976 814.3,976.3 812.6,977.3 794,988.9 775.8,1000.1 772.6,1002.1 757.5,1011.4 738.4,1023.2 717.8,1036 699.5,1047.2 694.5,1049.3 670.8,1039.5 648.1,1032.4 625.7,1025.3 602.8,1018.1 601.8,1017.8 581.3,1006.7 578.2,1005 559.1,994.6 557.5,993.8 557.4,993.6 557.1,993.2 544.5,974.3 533.3,957.6 531.9,953.1 524.4,929.7 517.3,906.7 511.4,887.5 509.8,883.5 500.2,859.7" fill="#b8ff00"/>
<polygon points="504.4,859.2 512.3,835.2 514.7,827.8 518.7,812.1 524.7,788.9 531,764.8 535.9,746.8 540.3,740.9 554.3,721.8 554.4,721.6 554.4,721.6 556,720.7 564.6,716.1 578.8,708.5 586.8,704.2 602,698.9 624.8,691 647.3,683.2 670.3,675.2 684.2,670.4 694.5,666.6 718.3,678.2 740.1,688.9 760.9,699 772.8,704.8 775.7,706.3 780.9,709.5 800,721.7 819.6,734.1 821,735 823.6,733.4 823.7,733.5 832.7,753.2 842.2,773.9 848.1,786.6 850.6,794.6 857.2,815.6 863.9,836.9 864.2,837.8 870.9,859.2 870.6,859.7 859.4,880.9 849,900.6 839.3,919.2 829.7,937.3 820.1,955.5 811.3,972.1 811.1,972.3 810.9,972.5 810.7,972.7 809,973.7 790.9,984.9 773.3,995.8 770.2,997.7 755.6,1006.7 737.1,1018.2 717.1,1030.6 699.4,1041.5 694.5,1043.8 671.4,1034.7 649.4,1027.5 627.8,1020.3 605.7,1013.1 604.7,1012.7 584.9,1002.1 581.9,1000.4 563.3,990.4 561.8,989.6 561.7,989.4 561.4,989 549.2,970.7 538.3,954.5 536.8,950.2 529.1,927.7 521.7,905.5 515.5,886.9 513.9,883 504.6,859.7" fill="#a3ff00"/>
<polygon points="508.8,859.2 516.5,835.8 518.8,828.6 523.2,813.3 529.8,791 536.5,768 541.6,750.9 545.8,745.1 559.3,726.7 559.4,726.5 559.4,726.5 561,725.7 569.2,721.2 583,713.9 590.6,709.8 605.2,704.5 627.1,696.6 648.8,688.8 671,680.8 684.5,675.9 694.5,672.2 717.6,683.7 738.7,694.2 758.7,704.1 770.3,709.9 773.1,711.3 778.1,714.4 796.6,726.1 815.6,738.1 816.9,739 818.5,738.4 818.6,738.5 827.8,756.9 837.7,776.5 843.9,788.6 846.3,796.3 852.7,816.8 859.2,837.5 859.5,838.4 866,859.2 865.7,859.7 854.8,880.3 844.6,899.4 835,917.4 825.7,934.9 816.2,952.6 807.7,968.6 807.5,968.7 807.3,968.9 807,969.1 805.4,970.1 787.9,980.9 770.9,991.5 767.8,993.3 753.7,1002.1 735.8,1013.2 716.3,1025.2 699.2,1035.7 694.5,1038.3 672,1029.8 650.7,1022.5 629.8,1015.3 608.6,1008 607.7,1007.7 588.5,997.4 585.5,995.8 567.5,986.2 566.1,985.4 566,985.2 565.7,984.8 553.8,967.1 543.3,951.5 541.8,947.4 533.9,925.7 526.1,904.3 519.5,886.3 518,882.4 509,859.6" fill="#8dff00"/>
<polygon points="513.2,859.2 520.7,836.3 523,829.3 527.8,814.5 534.8,793.1 542,771.1 547.3,754.9 551.3,749.3 564.3,731.6 564.4,731.4 564.4,731.4 565.9,730.6 573.8,726.3 587.1,719.3 594.5,715.3 608.4,710.1 629.5,702.2 650.3,694.4 671.7,686.3 684.8,681.4 694.5,677.8 716.9,689.2 737.3,699.5 756.6,709.3 767.7,714.9 770.4,716.3 775.2,719.3 793.2,730.6 811.5,742.2 812.9,743 813.4,743.3 813.5,743.4 823,760.6 833.3,779.1 839.7,790.6 842,798.1 848.2,818 854.5,838.1 854.8,839 861.1,859.2 860.8,859.7 850.1,879.7 840.1,898.2 830.7,915.6 821.6,932.6 812.4,949.7 804.1,965.1 803.9,965.2 803.7,965.4 803.4,965.6 801.8,966.5 784.9,977 768.4,987.2 765.4,989 751.8,997.4 734.4,1008.1 715.6,1019.7 699.1,1030 694.5,1032.8 672.7,1025 652.1,1017.6 631.9,1010.3 611.5,1003 610.6,1002.7 592,992.8 589.2,991.3 571.8,981.9 570.4,981.2 570.3,981 570,980.6 558.5,963.6 548.3,948.4 546.8,944.5 538.6,923.8 530.5,903.1 523.6,885.6 522.1,881.9 513.4,859.6" fill="#77ff00"/>
<polygon points="518.4,859.2 525.6,837 527.9,830.1 533.2,816 540.8,795.5 548.4,774.9 554,759.7 557.8,754.3 570.1,737.3 570.3,737.2 570.3,737.2 571.7,736.4 579.3,732.4 592,725.6 599,721.8 612.2,716.7 632.2,708.8 652.1,701 672.6,692.9 685.1,687.9 694.5,684.4 716,695.6 735.6,705.8 754.1,715.4 764.7,720.9 767.3,722.2 771.9,725.1 789.1,735.9 806.8,746.9 808,747.7 808.6,748 808.7,748.1 817.8,764.6 827.6,782.3 833.8,793.4 836.2,800.5 842.7,819.5 849.3,838.8 849.6,839.6 855.5,859.2 855.3,859.7 844.9,879 835.3,896.9 826.2,913.8 817.4,930.2 808.5,946.7 800.5,961.6 800.3,961.8 800.1,961.9 799.8,962.1 798.3,963 781.9,973.1 766,983 763.1,984.8 749.9,993 733.1,1003.4 715,1014.6 698.9,1024.5 694.5,1027.3 673.4,1019.3 653.6,1011.8 634.3,1004.5 614.9,997.1 614.1,996.8 596.2,987.3 593.5,985.9 576.8,976.9 575.4,976.2 575.3,976.1 575.1,975.7 564,959.3 554.2,944.8 552.6,941.1 544.2,921.5 535.7,901.8 528.4,884.9 527,881.3 518.5,859.6" fill="#62ff00"/>
<polygon points="523.6,859.2 530.6,837.6 532.8,831 538.6,817.4 546.8,798 554.9,778.6 560.7,764.4 564.4,759.3 576,743.1 576.1,743 576.1,742.9 577.5,742.2 584.8,738.4 596.8,731.9 603.6,728.4 616,723.2 634.9,715.4 653.9,707.5 673.5,699.4 685.5,694.4 694.5,691 715.2,702 733.9,712 751.6,721.4 761.7,726.8 764.1,728.1 768.6,730.9 785.1,741.2 802,751.7 803.2,752.4 803.7,752.8 803.8,752.8 812.6,768.6 822,785.6 827.8,796.2 830.3,802.9 837.1,821 844.1,839.5 844.4,840.3 849.9,859.2 849.7,859.7 839.7,878.3 830.4,895.6 821.7,911.9 813.2,927.7 804.6,943.7 796.9,958.1 796.7,958.3 796.5,958.4 796.2,958.6 794.8,959.5 779,969.3 763.6,978.9 760.8,980.6 748.1,988.5 731.8,998.6 714.3,1009.5 698.8,1019.1 694.5,1021.8 674.2,1013.6 655.2,1005.9 636.8,998.6 618.3,991.2 617.5,990.9 600.4,981.8 597.8,980.5 581.7,972 580.5,971.3 580.4,971.2 580.1,970.8 569.5,955.1 560.1,941.2 558.5,937.7 549.7,919.2 540.9,900.4 533.2,884.2 531.8,880.6 523.7,859.6" fill="#4cff00"/>
<polygon points="528.8,859.2 535.6,838.3 537.6,831.8 543.9,818.9 552.7,800.5 561.3,782.3 567.4,769.2 570.9,764.3 581.9,748.8 582,748.7 582,748.7 583.3,748 590.2,744.4 601.7,738.3 608.1,734.9 619.8,729.8 637.7,722 655.6,714.1 674.3,705.9 685.8,700.9 694.5,697.6 714.3,708.5 732.3,718.3 749.1,727.5 758.7,732.8 761,734 765.2,736.7 781,746.4 797.3,756.4 798.4,757.2 798.9,757.5 799,757.5 807.3,772.6 816.3,788.9 821.9,799 824.5,805.4 831.5,822.5 838.9,840.2 839.2,840.9 844.3,859.2 844.1,859.7 834.5,877.6 825.6,894.3 817.2,910 809,925.3 800.7,940.7 793.3,954.7 793.1,954.8 792.9,954.9 792.7,955.1 791.3,956 776,965.5 761.2,974.7 758.5,976.4 746.2,984 730.6,993.8 713.6,1004.3 698.6,1013.7 694.5,1016.2 674.9,1007.9 656.7,1000.1 639.2,992.7 621.7,985.3 621,985 604.6,976.4 602.1,975.1 586.7,967 585.5,966.3 585.4,966.2 585.1,965.9 575,950.9 566,937.6 564.3,934.4 555.3,916.9 546.1,899 538,883.4 536.6,880 528.9,859.6" fill="#36ff00"/>
<polygon points="533.9,859.2 540.5,838.9 542.5,832.7 549.3,820.3 558.7,802.9 567.7,786 574.1,773.9 577.4,769.3 587.8,754.6 587.9,754.5 587.9,754.5 589.1,753.8 595.7,750.4 606.6,744.6 612.6,741.4 623.6,736.4 640.4,728.6 657.4,720.7 675.2,712.5 686.2,707.3 694.5,704.1 713.5,714.9 730.6,724.5 746.5,733.6 755.6,738.7 757.8,739.9 761.9,742.4 777,751.7 792.5,761.2 793.6,761.9 794.1,762.2 794.1,762.3 802.1,776.7 810.6,792.2 816,801.8 818.6,807.8 826,824 833.7,840.9 834,841.6 838.8,859.2 838.5,859.6 829.3,876.9 820.7,893 812.7,908.1 804.8,922.9 796.9,937.7 789.7,951.2 789.6,951.3 789.4,951.5 789.1,951.6 787.8,952.5 773.1,961.6 758.8,970.6 756.2,972.2 744.4,979.6 729.3,989 712.9,999.2 698.5,1008.2 694.5,1010.7 675.7,1002.2 658.3,994.3 641.6,986.8 625.1,979.4 624.4,979.1 608.8,970.9 606.4,969.7 591.7,962 590.6,961.4 590.4,961.3 590.2,960.9 580.5,946.7 571.9,934 570.2,931 560.9,914.5 551.3,897.6 542.7,882.7 541.5,879.3 534.1,859.6" fill="#21ff00"/>
<polygon points="539.1,859.2 545.5,839.6 547.4,833.5 554.7,821.7 564.7,805.4 574.2,789.7 580.8,778.7 583.9,774.3 593.6,760.3 593.7,760.3 593.8,760.3 594.9,759.6 601.1,756.4 611.4,751 617.2,747.9 627.4,742.9 643.1,735.2 659.2,727.3 676,719 686.5,713.8 694.5,710.7 712.7,721.3 728.9,730.8 744,739.6 752.6,744.6 754.7,745.9 758.6,748.2 772.9,757 787.7,766 788.8,766.6 789.2,766.9 789.3,767 796.8,780.7 805,795.4 810,804.6 812.8,810.2 820.4,825.5 828.5,841.6 828.8,842.2 833.2,859.2 833,859.6 824.1,876.3 815.9,891.7 808.1,906.3 800.6,920.5 793,934.8 786.1,947.7 786,947.9 785.8,948 785.5,948.1 784.3,949 770.2,957.8 756.4,966.4 753.9,968 742.5,975.1 728,984.2 712.3,994.1 698.3,1002.8 694.5,1005.2 676.4,996.5 659.9,988.5 644.1,980.9 628.5,973.5 627.9,973.2 613,965.4 610.7,964.3 596.7,957 595.6,956.4 595.5,956.3 595.2,956 586,942.5 577.7,930.4 576,927.6 566.5,912.2 556.4,896.2 547.5,881.9 546.3,878.7 539.3,859.6" fill="#0bff00"/>
<polygon points="544.3,859.2 550.4,840.2 552.3,834.4 560.1,823.2 570.6,807.9 580.6,793.4 587.5,783.4 590.4,779.3 599.5,766.1 599.6,766 599.6,766 600.7,765.4 606.6,762.4 616.3,757.3 621.7,754.5 631.2,749.5 645.9,741.8 660.9,733.9 676.9,725.5 686.9,720.3 694.5,717.3 711.8,727.8 727.2,737.1 741.5,745.7 749.6,750.6 751.6,751.8 755.2,754 768.9,762.2 783,770.7 784,771.3 784.4,771.6 784.4,771.7 791.6,784.7 799.3,798.7 804.1,807.4 807,812.6 814.8,827 823.2,842.3 823.6,842.9 827.6,859.2 827.4,859.6 818.9,875.6 811,890.4 803.6,904.4 796.4,918 789.1,931.8 782.5,944.2 782.4,944.4 782.2,944.5 782,944.7 780.7,945.4 767.2,954 754,962.3 751.6,963.7 740.7,970.7 726.7,979.4 711.6,989 698.2,997.4 694.5,999.7 677.2,990.8 661.4,982.7 646.5,975 631.9,967.6 631.3,967.2 617.2,960 615,958.9 601.7,952 600.6,951.5 600.5,951.4 600.3,951.1 591.5,938.3 583.6,926.8 581.9,924.2 572,909.9 561.6,894.8 552.3,881.2 551.2,878.1 544.4,859.6" fill="#00ff0b"/>
<polygon points="557.5,859.2 563.9,842 565.8,836.8 572.9,826.6 582.5,812.8 591.6,799.8 597.9,790.7 600.4,787 608.7,775.1 608.8,775.1 608.8,775.1 609.8,774.5 614.9,771.5 623.7,767 628.7,764.4 637.3,760 650.6,753.2 664.2,746.2 678.7,738.8 687.7,734.2 694.5,731.5 710.1,740.9 724,749.3 736.8,757.1 744.1,761.5 745.8,762.6 749,764.8 760.9,772.7 773,780.7 773.8,781.3 774.2,781.5 774.2,781.6 780.7,793.1 787.6,805.4 792,813.1 794.6,817.7 801.7,830.5 809.4,844.1 809.7,844.6 814,859.2 813.9,859.6 806.1,873.9 798.9,887.2 792.2,899.7 785.6,911.8 779,924 773,935.1 773,935.3 772.8,935.4 772.6,935.5 771.5,936.2 759.9,944.4 748.4,952.5 746.3,954 736.4,960.3 723.7,968.2 710,976.9 697.9,984.5 694.5,986.6 678.8,978.7 664.4,971.5 650.8,964.6 637.5,957.9 637,957.6 624,951.1 622,950.1 610.4,943.3 609.5,942.8 609.4,942.7 609.2,942.4 601.2,930.8 594.1,920.5 592.4,918.1 583.5,905.2 574,891.5 565.5,879.2 564.4,876.3 557.6,859.5" fill="#00ff21"/>
<polygon points="570.8,859.2 577.4,843.8 579.4,839.1 585.7,830.1 594.4,817.7 602.5,806.1 608.2,798 610.5,794.7 617.9,784.2 618,784.1 618,784.1 618.8,783.5 623.1,780.6 631.2,776.6 635.6,774.4 643.3,770.6 655.3,764.6 667.5,758.5 680.4,752.1 688.4,748.1 694.5,745.7 708.3,754 720.7,761.5 732.1,768.4 738.6,772.3 740,773.5 742.8,775.6 752.8,783.2 763,790.7 763.7,791.3 764,791.5 764,791.6 769.8,801.5 776,812.2 779.9,818.9 782.2,822.9 788.7,834 795.6,845.9 795.9,846.4 800.4,859.2 800.3,859.5 793.3,872.2 786.8,883.9 780.7,894.9 774.8,905.6 768.9,916.3 763.6,926 763.5,926.1 763.4,926.2 763.2,926.3 762.3,927 752.5,934.8 742.8,942.8 741,944.3 732.1,949.9 720.7,957 708.4,964.8 697.5,971.6 694.5,973.5 680.4,966.6 667.4,960.2 655.2,954.2 643.1,948.2 642.6,948 630.8,942.2 629,941.3 619.1,934.6 618.4,934.1 618.3,934 618.1,933.7 610.9,923.4 604.5,914.1 603,912 595,900.4 586.5,888.2 578.8,877.1 577.7,874.6 570.8,859.5" fill="#00ff36"/>
<polygon points="584,859.2 590.9,845.6 592.9,841.5 598.6,833.5 606.3,822.6 613.5,812.4 618.5,805.4 620.6,802.5 627.2,793.2 627.2,793.1 627.2,793.1 627.9,792.6 631.4,789.7 638.6,786.3 642.5,784.4 649.4,781.1 660,776 670.8,770.8 682.1,765.4 689.2,762 694.5,759.8 706.6,767.2 717.4,773.7 727.4,779.8 733,783.2 734.3,784.3 736.5,786.4 744.8,793.7 753,800.7 753.5,801.2 753.8,801.4 753.8,801.5 758.8,809.8 764.3,818.9 767.8,824.6 769.8,828 775.6,837.5 781.8,847.7 782,848.1 786.8,859.2 786.8,859.5 780.5,870.5 774.7,880.7 769.3,890.2 764.1,899.4 758.8,908.6 754.2,916.8 754.1,917 754,917.1 753.8,917.2 753.1,917.8 745.2,925.3 737.1,933.1 735.7,934.5 727.8,939.5 717.7,945.8 706.8,952.7 697.2,958.8 694.5,960.5 682,954.5 670.4,949 659.5,943.7 648.7,938.6 648.2,938.4 637.6,933.3 636,932.6 627.8,925.9 627.2,925.3 627.1,925.3 627,925.1 620.6,915.9 614.9,907.8 613.6,905.9 606.4,895.7 598.9,884.8 592,875.1 590.9,872.8 583.9,859.5" fill="#00ff4c"/>
<polygon points="597.2,859.2 604.3,847.3 606.4,843.8 611.4,836.9 618.1,827.6 624.5,818.8 628.8,812.7 630.6,810.2 636.4,802.2 636.4,802.2 636.4,802.2 636.9,801.6 639.7,798.9 646,796 649.5,794.4 655.5,791.7 664.8,787.4 674.1,783.1 683.9,778.7 689.9,775.9 694.5,774 704.9,780.3 714.1,785.9 722.7,791.2 727.5,794.1 728.5,795.2 730.3,797.2 736.7,804.2 742.9,810.8 743.4,811.2 743.6,811.4 743.6,811.4 747.9,818.2 752.6,825.6 755.6,830.3 757.4,833.1 762.5,841 768,849.5 768.2,849.9 773.2,859.2 773.3,859.4 767.7,868.8 762.6,877.4 757.9,885.4 753.3,893.2 748.8,900.8 744.7,907.7 744.7,907.8 744.6,907.9 744.5,908 743.9,908.6 737.9,915.7 731.5,923.3 730.3,924.8 723.5,929.1 714.7,934.6 705.2,940.6 696.8,945.9 694.5,947.4 683.6,942.4 673.5,937.7 663.8,933.3 654.2,928.9 653.8,928.7 644.4,924.4 643,923.8 636.6,917.1 636.1,916.6 636,916.6 635.9,916.4 630.3,908.5 625.3,901.4 624.2,899.8 617.9,890.9 611.3,881.5 605.3,873 604.1,871.1 597.1,859.4" fill="#00ff62"/>
<polygon points="610.4,859.2 617.8,849.1 620,846.2 624.2,840.4 630,832.5 635.4,825.1 639.2,820 640.7,817.9 645.6,811.3 645.6,811.2 645.6,811.2 646,810.7 648,808 653.4,805.7 656.4,804.4 661.6,802.2 669.5,798.8 677.4,795.5 685.6,791.9 690.7,789.8 694.5,788.2 703.2,793.5 710.9,798.2 718,802.5 722,805 722.7,806 724.1,808 728.7,814.6 732.9,820.8 733.2,821.2 733.4,821.3 733.4,821.4 737,826.6 741,832.4 743.5,836 745.1,838.3 749.4,844.5 754.1,851.3 754.3,851.6 759.6,859.2 759.7,859.4 754.9,867.1 750.5,874.2 746.4,880.7 742.5,886.9 738.7,893.1 735.3,898.6 735.2,898.7 735.2,898.8 735.1,898.9 734.7,899.4 730.5,906.2 725.9,913.6 725,915 719.2,918.7 711.7,923.4 703.6,928.5 696.5,933.1 694.5,934.3 685.1,930.3 676.5,926.5 668.1,922.9 659.8,919.3 659.5,919.1 651.3,915.6 650,915 645.3,908.4 644.9,907.9 644.9,907.9 644.8,907.7 640,901 635.7,895.1 634.8,893.7 629.4,886.2 623.7,878.2 618.5,871 617.4,869.4 610.3,859.4" fill="#00ff77"/>
<polygon points="642.7,859.2 652.3,853.6 654.7,852.3 659.1,849.7 664.3,846.7 668.6,844.2 671.2,842.7 672.2,842.1 675.3,840.3 675.3,840.3 675.3,840.3 675.5,840.2 676.6,839.5 678.6,838.4 679.6,837.8 681.5,836.7 684.5,835 687.5,833.2 690.8,831.3 692.9,830.1 694.5,829.2 697.9,833.3 700.6,836.5 702.8,839.1 704,840.5 704.3,840.8 704.8,841.4 706.5,843.5 708.2,845.5 708.3,845.6 708.4,845.7 708.4,845.7 709.8,847.4 711.5,849.4 712.5,850.7 713.2,851.5 715.1,853.7 717.2,856.2 717.3,856.3 719.7,859.2 719.6,859.3 717.7,862.3 715.9,864.9 714.3,867.4 712.8,869.8 711.3,872.1 709.9,874.1 709.9,874.1 709.9,874.2 709.9,874.2 709.7,874.4 708.1,876.9 706.3,879.6 706,880.2 704.3,882.7 701.8,886.5 698.7,891.2 695.5,896.1 694.5,897.6 689.9,894.2 685.9,891.2 682.3,888.6 679,886.1 678.8,886 675.7,883.7 675.3,883.3 672.4,881.3 672.2,881.1 672.2,881.1 672.1,881 669,878.7 666.1,876.5 665.4,876 661.3,873 656.5,869.4 651.6,865.8 650.5,865 642.9,859.3" fill="#00ff8d"/>
</g>
<polygon points="694.5,829.2 719.7,859.2 694.5,897.6 642.7,859.2" fill="none" stroke="#3a3a3a" stroke-width="1.05" stroke-linejoin="round"/>
<polygon points="694.5,717.3 784.4,771.6 823.6,842.9 827.6,859.2 782.4,944.4 694.5,999.7 600.5,951.4 552.3,881.2 544.3,859.2 552.3,834.4 599.5,766.1 686.9,720.3" fill="none" stroke="#3a3a3a" stroke-width="1.05" stroke-linejoin="round"/>
<polygon points="694.5,677.8 770.4,716.3 813.5,743.4 839.7,790.6 861.1,859.2 804.1,965.1 694.5,1032.8 610.6,1002.7 570.4,981.2 548.3,948.4 513.2,859.2 547.3,754.9 564.4,731.4 594.5,715.3" fill="none" stroke="#3a3a3a" stroke-width="1.05" stroke-linejoin="round"/>
<polyline points="843.2,712.9 890.5,859.2 825.3,987 700,1064.5" fill="none" stroke="#3a3a3a" stroke-width="1.05" stroke-linejoin="round"/>
<polygon points="694.5,652.5 843.7,712.7 905.9,859.2 844.7,1005.3 694.5,1065.9 544.7,1005.3 483.1,859.2 545.3,712.7" fill="none" stroke="#3a3a3a" stroke-width="1.05" stroke-linejoin="round"/>
<rect x="459.5" y="629.4" width="470.4" height="460.1" fill="none" stroke="#000" stroke-width="1.9"/>
<path d="M459.5 1089.5v4.6M459.5 1089.5h-4.6M506.5 1089.5v9M459.5 1043.5h-9M553.6 1089.5v4.6M459.5 997.5h-4.6M600.6 1089.5v9M459.5 951.5h-9M647.6 1089.5v4.6M459.5 905.5h-4.6M694.7 1089.5v9M459.5 859.5h-9M741.7 1089.5v4.6M459.5 813.4h-4.6M788.7 1089.5v9M459.5 767.4h-9M835.8 1089.5v4.6M459.5 721.4h-4.6M882.8 1089.5v9M459.5 675.4h-9M929.9 1089.5v4.6M459.5 629.4h-4.6" stroke="#000" stroke-width="2" fill="none"/>
<text x="506.5" y="1120.3" font-size="19.5" text-anchor="middle">-4</text>
<text x="444.3" y="1048.6" font-size="19.5" text-anchor="end">-4</text>
<text x="600.6" y="1120.3" font-size="19.5" text-anchor="middle">-2</text>
<text x="444.3" y="956.6" font-size="19.5" text-anchor="end">-2</text>
<text x="694.7" y="1120.3" font-size="19.5" text-anchor="middle">0</text>
<text x="444.3" y="864.6" font-size="19.5" text-anchor="end">0</text>
<text x="788.7" y="1120.3" font-size="19.5" text-anchor="middle">2</text>
<text x="444.3" y="772.5" font-size="19.5" text-anchor="end">2</text>
<text x="882.8" y="1120.3" font-size="19.5" text-anchor="middle">4</text>
<text x="444.3" y="680.5" font-size="19.5" text-anchor="end">4</text>
<rect x="1005.9" y="1074.2" width="37" height="9.7" fill="#0000ff"/>
<rect x="1005.9" y="1064.8" width="37" height="9.7" fill="#0016ff"/>
<rect x="1005.9" y="1055.5" width="37" height="9.7" fill="#002bff"/>
<rect x="1005.9" y="1046.1" width="37" height="9.7" fill="#0041ff"/>
<rect x="1005.9" y="1036.8" width="37" height="9.7" fill="#0057ff"/>
<rect x="1005.9" y="1027.4" width="37" height="9.7" fill="#006dff"/>
<rect x="1005.9" y="1018.1" width="37" height="9.7" fill="#0082ff"/>
<rect x="1005.9" y="1008.7" width="37" height="9.7" fill="#0098ff"/>
<rect x="1005.9" y="999.4" width="37" height="9.7" fill="#00aeff"/>
<rect x="1005.9" y="990" width="37" height="9.7" fill="#00c3ff"/>
<rect x="1005.9" y="980.6" width="37" height="9.7" fill="#00d9ff"/>
<rect x="1005.9" y="971.3" width="37" height="9.7" fill="#00efff"/>
<rect x="1005.9" y="961.9" width="37" height="9.7" fill="#00fffa"/>
<rect x="1005.9" y="952.6" width="37" height="9.7" fill="#00ffe4"/>
<rect x="1005.9" y="943.2" width="37" height="9.7" fill="#00ffce"/>
<rect x="1005.9" y="933.9" width="37" height="9.7" fill="#00ffb8"/>
<rect x="1005.9" y="924.5" width="37" height="9.7" fill="#00ffa3"/>
<rect x="1005.9" y="915.2" width="37" height="9.7" fill="#00ff8d"/>
<rect x="1005.9" y="905.9" width="37" height="9.7" fill="#00ff77"/>
<rect x="1005.9" y="896.5" width="37" height="9.7" fill="#00ff62"/>
<rect x="1005.9" y="887.1" width="37" height="9.7" fill="#00ff4c"/>
<rect x="1005.9" y="877.8" width="37" height="9.7" fill="#00ff36"/>
<rect x="1005.9" y="868.4" width="37" height="9.7" fill="#00ff21"/>
<rect x="1005.9" y="859.1" width="37" height="9.7" fill="#00ff0b"/>
<rect x="1005.9" y="849.8" width="37" height="9.7" fill="#0bff00"/>
<rect x="1005.9" y="840.4" width="37" height="9.7" fill="#21ff00"/>
<rect x="1005.9" y="831" width="37" height="9.7" fill="#36ff00"/>
<rect x="1005.9" y="821.7" width="37" height="9.7" fill="#4cff00"/>
<rect x="1005.9" y="812.4" width="37" height="9.7" fill="#62ff00"/>
<rect x="1005.9" y="803" width="37" height="9.7" fill="#77ff00"/>
<rect x="1005.9" y="793.6" width="37" height="9.7" fill="#8dff00"/>
<rect x="1005.9" y="784.3" width="37" height="9.7" fill="#a3ff00"/>
<rect x="1005.9" y="774.9" width="37" height="9.7" fill="#b8ff00"/>
<rect x="1005.9" y="765.6" width="37" height="9.7" fill="#ceff00"/>
<rect x="1005.9" y="756.2" width="37" height="9.7" fill="#e4ff00"/>
<rect x="1005.9" y="746.9" width="37" height="9.7" fill="#faff00"/>
<rect x="1005.9" y="737.6" width="37" height="9.7" fill="#ffef00"/>
<rect x="1005.9" y="728.2" width="37" height="9.7" fill="#ffd900"/>
<rect x="1005.9" y="718.9" width="37" height="9.7" fill="#ffc300"/>
<rect x="1005.9" y="709.5" width="37" height="9.7" fill="#ffae00"/>
<rect x="1005.9" y="700.1" width="37" height="9.7" fill="#ff9800"/>
<rect x="1005.9" y="690.8" width="37" height="9.7" fill="#ff8200"/>
<rect x="1005.9" y="681.4" width="37" height="9.7" fill="#ff6d00"/>
<rect x="1005.9" y="672.1" width="37" height="9.7" fill="#ff5700"/>
<rect x="1005.9" y="662.8" width="37" height="9.7" fill="#ff4100"/>
<rect x="1005.9" y="653.4" width="37" height="9.7" fill="#ff2b00"/>
<rect x="1005.9" y="644.1" width="37" height="9.7" fill="#ff1600"/>
<rect x="1005.9" y="635" width="37" height="9.3" fill="#ff0000"/>
<rect x="1005.9" y="635" width="37" height="448.8" fill="none" stroke="#000" stroke-width="1.6"/>
<text x="1057.8" y="1089" font-size="15.3" textLength="36.8" lengthAdjust="spacingAndGlyphs">5.300</text>
<text x="1057.8" y="1032.9" font-size="15.3" textLength="36.8" lengthAdjust="spacingAndGlyphs">6.640</text>
<text x="1057.8" y="976.8" font-size="15.3" textLength="36.8" lengthAdjust="spacingAndGlyphs">7.980</text>
<text x="1057.8" y="920.7" font-size="15.3" textLength="36.8" lengthAdjust="spacingAndGlyphs">9.320</text>
<text x="1057.8" y="864.6" font-size="15.3" textLength="36.8" lengthAdjust="spacingAndGlyphs">10.66</text>
<text x="1057.8" y="808.5" font-size="15.3" textLength="36.8" lengthAdjust="spacingAndGlyphs">12.00</text>
<text x="1057.8" y="752.4" font-size="15.3" textLength="36.8" lengthAdjust="spacingAndGlyphs">13.34</text>
<text x="1057.8" y="696.3" font-size="15.3" textLength="36.8" lengthAdjust="spacingAndGlyphs">14.68</text>
<text x="1057.8" y="640.2" font-size="15.3" textLength="36.8" lengthAdjust="spacingAndGlyphs">16.02</text>
<path d="M1042.9 1083.8h9M1042.9 1027.7h9M1042.9 971.6h9M1042.9 915.5h9M1042.9 859.4h9M1042.9 803.3h9M1042.9 747.2h9M1042.9 691.1h9M1042.9 635h9" stroke="#000" stroke-width="1.6" fill="none"/>
<text x="322.1" y="25" font-size="24" text-anchor="middle" textLength="91.3" lengthAdjust="spacingAndGlyphs">Sample I</text>
<text x="1069.5" y="25.7" font-size="24" text-anchor="middle" textLength="100.4" lengthAdjust="spacingAndGlyphs">Sample L</text>
<text x="694.6" y="610" font-size="24" text-anchor="middle" textLength="105.1" lengthAdjust="spacingAndGlyphs">Sample M</text>
<text x="649.7" y="33.8" font-size="24" text-anchor="middle" textLength="159.6" lengthAdjust="spacingAndGlyphs">Thickness (<tspan style="font-family:'Liberation Serif'">&#956;</tspan>m)</text>
<text x="1399.5" y="34.8" font-size="24" text-anchor="middle" textLength="160.9" lengthAdjust="spacingAndGlyphs">Thickness (<tspan style="font-family:'Liberation Serif'">&#956;</tspan>m)</text>
<text x="1024.2" y="618.8" font-size="24" text-anchor="middle" textLength="160.3" lengthAdjust="spacingAndGlyphs">Thickness (<tspan style="font-family:'Liberation Serif'">&#956;</tspan>m)</text>
<text x="322.6" y="576" font-size="24" text-anchor="middle" textLength="228.8" lengthAdjust="spacingAndGlyphs">Electrode radius (mm)</text>
<text x="1069.5" y="572.8" font-size="24" text-anchor="middle" textLength="230.3" lengthAdjust="spacingAndGlyphs">Electrode radius (mm)</text>
<text x="695" y="1156.8" font-size="24" text-anchor="middle" textLength="229.5" lengthAdjust="spacingAndGlyphs">Electrode radius (mm)</text>
<text x="45.6" y="275.9" font-size="24" text-anchor="middle" textLength="235.4" lengthAdjust="spacingAndGlyphs" transform="rotate(-90 45.6 275.9)">Electrode radius (mm)</text>
<text x="790.6" y="274.9" font-size="24" text-anchor="middle" textLength="233.4" lengthAdjust="spacingAndGlyphs" transform="rotate(-90 790.6 274.9)">Electrode radius (mm)</text>
<text x="416.3" y="858.9" font-size="24" text-anchor="middle" textLength="233.3" lengthAdjust="spacingAndGlyphs" transform="rotate(-90 416.3 858.9)">Electrode radius (mm)</text>
<path d="M1 0V1168M0 1H1498M0 584.5H1498M747 0V584.5M0 1168H1498" stroke="#000" stroke-width="2" fill="none"/>
<rect x="0" y="1169" width="1498" height="1" fill="#444"/>
</g>
</svg></body></html>
